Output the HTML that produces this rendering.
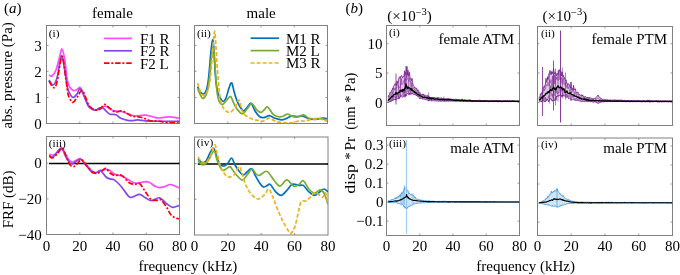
<!DOCTYPE html>
<html><head><meta charset="utf-8"><style>
html,body{margin:0;padding:0;background:#fff;}
body{width:680px;height:275px;position:relative;overflow:hidden;font-family:"Liberation Serif",serif;}
</style></head><body>
<svg width="680" height="275" viewBox="0 0 680 275" style="position:absolute;left:0;top:0;will-change:transform">
<defs><clipPath id="cA1"><rect x="46.5" y="25.5" width="133.0" height="98.0"/></clipPath><clipPath id="cA2"><rect x="194.5" y="25.5" width="133.0" height="98.0"/></clipPath><clipPath id="cA3"><rect x="46.5" y="136.5" width="133.0" height="98.0"/></clipPath><clipPath id="cA4"><rect x="194.5" y="137.0" width="133.5" height="98.0"/></clipPath><clipPath id="cB1"><rect x="386.5" y="25.5" width="133.0" height="100.0"/></clipPath><clipPath id="cB2"><rect x="537.5" y="26.5" width="135.0" height="99.0"/></clipPath><clipPath id="cB3"><rect x="386.5" y="137.5" width="133.0" height="98.0"/></clipPath><clipPath id="cB4"><rect x="537.5" y="138.0" width="135.0" height="97.5"/></clipPath></defs>
<rect x="46.5" y="25.5" width="133.0" height="98.0" fill="none" stroke="#808080" stroke-width="1"/><path d="M79.8,123.5 v-2.0 M79.8,25.5 v2.0" stroke="#808080" stroke-width="0.8"/><path d="M113.0,123.5 v-2.0 M113.0,25.5 v2.0" stroke="#808080" stroke-width="0.8"/><path d="M146.2,123.5 v-2.0 M146.2,25.5 v2.0" stroke="#808080" stroke-width="0.8"/><path d="M46.5,97.5 h2.0 M179.5,97.5 h-2.0" stroke="#808080" stroke-width="0.8"/><path d="M46.5,71.4 h2.0 M179.5,71.4 h-2.0" stroke="#808080" stroke-width="0.8"/><path d="M46.5,45.4 h2.0 M179.5,45.4 h-2.0" stroke="#808080" stroke-width="0.8"/>
<rect x="194.5" y="25.5" width="133.0" height="98.0" fill="none" stroke="#808080" stroke-width="1"/><path d="M227.8,123.5 v-2.0 M227.8,25.5 v2.0" stroke="#808080" stroke-width="0.8"/><path d="M261.0,123.5 v-2.0 M261.0,25.5 v2.0" stroke="#808080" stroke-width="0.8"/><path d="M294.2,123.5 v-2.0 M294.2,25.5 v2.0" stroke="#808080" stroke-width="0.8"/><path d="M194.5,97.5 h2.0 M327.5,97.5 h-2.0" stroke="#808080" stroke-width="0.8"/><path d="M194.5,71.4 h2.0 M327.5,71.4 h-2.0" stroke="#808080" stroke-width="0.8"/><path d="M194.5,45.4 h2.0 M327.5,45.4 h-2.0" stroke="#808080" stroke-width="0.8"/>
<rect x="46.5" y="136.5" width="133.0" height="98.0" fill="none" stroke="#808080" stroke-width="1"/><path d="M79.8,234.5 v-2.0 M79.8,136.5 v2.0" stroke="#808080" stroke-width="0.8"/><path d="M113.0,234.5 v-2.0 M113.0,136.5 v2.0" stroke="#808080" stroke-width="0.8"/><path d="M146.2,234.5 v-2.0 M146.2,136.5 v2.0" stroke="#808080" stroke-width="0.8"/><path d="M46.5,198.9 h2.0 M179.5,198.9 h-2.0" stroke="#808080" stroke-width="0.8"/><path d="M46.5,163.2 h2.0 M179.5,163.2 h-2.0" stroke="#808080" stroke-width="0.8"/>
<rect x="194.5" y="137.0" width="133.5" height="98.0" fill="none" stroke="#808080" stroke-width="1"/><path d="M227.9,235.0 v-2.0 M227.9,137.0 v2.0" stroke="#808080" stroke-width="0.8"/><path d="M261.2,235.0 v-2.0 M261.2,137.0 v2.0" stroke="#808080" stroke-width="0.8"/><path d="M294.6,235.0 v-2.0 M294.6,137.0 v2.0" stroke="#808080" stroke-width="0.8"/><path d="M194.5,199.4 h2.0 M328.0,199.4 h-2.0" stroke="#808080" stroke-width="0.8"/><path d="M194.5,163.7 h2.0 M328.0,163.7 h-2.0" stroke="#808080" stroke-width="0.8"/>
<path d="M49,163.4 H179.5" stroke="#000" stroke-width="1.5"/>
<path d="M197.8,163.9 H328" stroke="#000" stroke-width="1.5"/>
<path d="M49.00,75.00 C49.50,75.17 50.83,76.83 52.00,76.00 C53.17,75.17 54.78,73.00 56.00,70.00 C57.22,67.00 58.30,61.50 59.30,58.00 C60.30,54.50 61.08,48.67 62.00,49.00 C62.92,49.33 63.92,54.83 64.80,60.00 C65.68,65.17 66.43,75.42 67.30,80.00 C68.17,84.58 68.92,85.72 70.00,87.50 C71.08,89.28 72.63,90.37 73.80,90.70 C74.97,91.03 75.90,89.98 77.00,89.50 C78.10,89.02 79.12,86.58 80.40,87.80 C81.68,89.02 83.37,93.85 84.70,96.80 C86.03,99.75 86.93,103.37 88.40,105.50 C89.87,107.63 91.68,108.98 93.50,109.60 C95.32,110.22 97.43,109.77 99.30,109.20 C101.17,108.63 103.02,106.32 104.70,106.20 C106.38,106.08 107.85,107.72 109.40,108.50 C110.95,109.28 112.07,110.40 114.00,110.90 C115.93,111.40 118.43,110.92 121.00,111.50 C123.57,112.08 127.02,113.65 129.40,114.40 C131.78,115.15 132.75,115.87 135.30,116.00 C137.85,116.13 141.75,115.07 144.70,115.20 C147.65,115.33 150.65,116.33 153.00,116.80 C155.35,117.27 156.07,118.00 158.80,118.00 C161.53,118.00 166.03,116.75 169.40,116.80 C172.77,116.85 177.40,118.05 179.00,118.30" fill="none" stroke="#ff4cff" stroke-width="1.70" stroke-linejoin="round" clip-path="url(#cA1)"/>
<path d="M49.00,80.00 C49.67,80.83 51.67,85.33 53.00,85.00 C54.33,84.67 55.90,81.50 57.00,78.00 C58.10,74.50 58.77,67.67 59.60,64.00 C60.43,60.33 61.10,54.67 62.00,56.00 C62.90,57.33 64.07,66.67 65.00,72.00 C65.93,77.33 66.77,84.33 67.60,88.00 C68.43,91.67 69.08,92.42 70.00,94.00 C70.92,95.58 71.93,97.50 73.10,97.50 C74.27,97.50 75.78,95.45 77.00,94.00 C78.22,92.55 78.98,87.85 80.40,88.80 C81.82,89.75 84.07,96.67 85.50,99.70 C86.93,102.73 87.42,105.25 89.00,107.00 C90.58,108.75 93.17,110.07 95.00,110.20 C96.83,110.33 98.67,108.17 100.00,107.80 C101.33,107.43 101.83,107.33 103.00,108.00 C104.17,108.67 105.83,110.77 107.00,111.80 C108.17,112.83 108.47,113.70 110.00,114.20 C111.53,114.70 114.48,114.15 116.20,114.80 C117.92,115.45 118.42,117.17 120.30,118.10 C122.18,119.03 125.55,119.98 127.50,120.40 C129.45,120.82 130.28,120.68 132.00,120.60 C133.72,120.52 135.47,119.85 137.80,119.90 C140.13,119.95 142.92,120.68 146.00,120.90 C149.08,121.12 152.87,121.12 156.30,121.20 C159.73,121.28 162.82,121.40 166.60,121.40 C170.38,121.40 176.93,121.23 179.00,121.20" fill="none" stroke="#8844ee" stroke-width="1.70" stroke-linejoin="round" clip-path="url(#cA1)"/>
<path d="M49.00,81.00 C49.77,82.10 52.27,87.43 53.60,87.60 C54.93,87.77 55.60,87.20 57.00,82.00 C58.40,76.80 60.50,56.73 62.00,56.40 C63.50,56.07 65.00,73.73 66.00,80.00 C67.00,86.27 67.25,90.67 68.00,94.00 C68.75,97.33 69.65,98.62 70.50,100.00 C71.35,101.38 71.93,102.83 73.10,102.30 C74.27,101.77 76.05,98.80 77.50,96.80 C78.95,94.80 80.47,90.30 81.80,90.30 C83.13,90.30 84.30,94.27 85.50,96.80 C86.70,99.33 87.42,103.30 89.00,105.50 C90.58,107.70 93.17,109.42 95.00,110.00 C96.83,110.58 98.38,109.93 100.00,109.00 C101.62,108.07 103.13,104.57 104.70,104.40 C106.27,104.23 107.63,106.73 109.40,108.00 C111.17,109.27 113.37,111.52 115.30,112.00 C117.23,112.48 119.23,110.80 121.00,110.90 C122.77,111.00 124.10,111.72 125.90,112.60 C127.70,113.48 129.65,115.50 131.80,116.20 C133.95,116.90 136.65,116.42 138.80,116.80 C140.95,117.18 142.73,117.82 144.70,118.50 C146.67,119.18 148.25,120.47 150.60,120.90 C152.95,121.33 155.87,120.82 158.80,121.10 C161.73,121.38 164.83,122.28 168.20,122.60 C171.57,122.92 177.20,122.93 179.00,123.00" fill="none" stroke="#ff0000" stroke-width="1.70" stroke-dasharray="5.5,1.8,2,1.8" stroke-linejoin="round" clip-path="url(#cA1)"/>
<path d="M197.60,86.70 C198.00,87.50 199.02,90.28 200.00,91.50 C200.98,92.72 202.50,94.08 203.50,94.00 C204.50,93.92 205.28,92.67 206.00,91.00 C206.72,89.33 207.27,87.17 207.80,84.00 C208.33,80.83 208.73,76.83 209.20,72.00 C209.67,67.17 210.17,59.67 210.60,55.00 C211.03,50.33 211.45,46.58 211.80,44.00 C212.15,41.42 212.42,39.50 212.70,39.50 C212.98,39.50 213.23,41.08 213.50,44.00 C213.77,46.92 214.00,52.00 214.30,57.00 C214.60,62.00 214.93,69.17 215.30,74.00 C215.67,78.83 216.05,82.83 216.50,86.00 C216.95,89.17 217.38,91.03 218.00,93.00 C218.62,94.97 219.37,96.38 220.20,97.80 C221.03,99.22 222.03,101.47 223.00,101.50 C223.97,101.53 225.00,100.25 226.00,98.00 C227.00,95.75 228.05,90.50 229.00,88.00 C229.95,85.50 230.80,82.20 231.70,83.00 C232.60,83.80 233.35,89.47 234.40,92.80 C235.45,96.13 236.52,100.02 238.00,103.00 C239.48,105.98 241.80,109.95 243.30,110.70 C244.80,111.45 245.72,108.75 247.00,107.50 C248.28,106.25 249.68,102.67 251.00,103.20 C252.32,103.73 253.50,108.48 254.90,110.70 C256.30,112.92 257.92,115.35 259.40,116.50 C260.88,117.65 262.15,117.73 263.80,117.60 C265.45,117.47 267.47,115.60 269.30,115.70 C271.13,115.80 272.77,117.52 274.80,118.20 C276.83,118.88 279.47,119.80 281.50,119.80 C283.53,119.80 285.35,118.80 287.00,118.20 C288.65,117.60 289.57,116.48 291.40,116.20 C293.23,115.92 296.17,116.53 298.00,116.50 C299.83,116.47 300.57,115.63 302.40,116.00 C304.23,116.37 306.80,118.15 309.00,118.70 C311.20,119.25 313.20,119.38 315.60,119.30 C318.00,119.22 321.50,118.30 323.40,118.20 C325.30,118.10 326.40,118.62 327.00,118.70" fill="none" stroke="#0072bd" stroke-width="1.70" stroke-linejoin="round" clip-path="url(#cA2)"/>
<path d="M197.60,88.20 C198.00,89.17 199.15,92.30 200.00,94.00 C200.85,95.70 201.70,98.23 202.70,98.40 C203.70,98.57 205.12,96.73 206.00,95.00 C206.88,93.27 207.40,91.00 208.00,88.00 C208.60,85.00 209.10,81.33 209.60,77.00 C210.10,72.67 210.57,66.33 211.00,62.00 C211.43,57.67 211.85,53.50 212.20,51.00 C212.55,48.50 212.80,46.83 213.10,47.00 C213.40,47.17 213.70,49.17 214.00,52.00 C214.30,54.83 214.57,59.33 214.90,64.00 C215.23,68.67 215.60,75.00 216.00,80.00 C216.40,85.00 216.80,90.50 217.30,94.00 C217.80,97.50 218.42,99.37 219.00,101.00 C219.58,102.63 220.17,103.23 220.80,103.80 C221.43,104.37 221.85,104.95 222.80,104.40 C223.75,103.85 225.22,101.83 226.50,100.50 C227.78,99.17 229.33,96.05 230.50,96.40 C231.67,96.75 232.42,100.50 233.50,102.60 C234.58,104.70 235.52,107.12 237.00,109.00 C238.48,110.88 240.73,113.90 242.40,113.90 C244.07,113.90 245.45,110.73 247.00,109.00 C248.55,107.27 250.08,103.37 251.70,103.50 C253.32,103.63 255.15,108.33 256.70,109.80 C258.25,111.27 259.78,112.27 261.00,112.30 C262.22,112.33 262.88,110.90 264.00,110.00 C265.12,109.10 266.17,106.18 267.70,106.90 C269.23,107.62 271.27,112.62 273.20,114.30 C275.13,115.98 277.55,116.72 279.30,117.00 C281.05,117.28 282.33,116.50 283.70,116.00 C285.07,115.50 286.03,113.92 287.50,114.00 C288.97,114.08 290.75,116.00 292.50,116.50 C294.25,117.00 296.17,117.28 298.00,117.00 C299.83,116.72 301.67,114.57 303.50,114.80 C305.33,115.03 306.80,117.75 309.00,118.40 C311.20,119.05 314.48,118.65 316.70,118.70 C318.92,118.75 320.58,118.33 322.30,118.70 C324.02,119.07 326.22,120.53 327.00,120.90" fill="none" stroke="#77ac30" stroke-width="1.70" stroke-linejoin="round" clip-path="url(#cA2)"/>
<path d="M197.60,83.00 C198.00,84.25 199.10,88.42 200.00,90.50 C200.90,92.58 202.00,94.92 203.00,95.50 C204.00,96.08 205.08,95.25 206.00,94.00 C206.92,92.75 207.78,90.67 208.50,88.00 C209.22,85.33 209.75,82.33 210.30,78.00 C210.85,73.67 211.33,67.50 211.80,62.00 C212.27,56.50 212.73,49.50 213.10,45.00 C213.47,40.50 213.75,37.30 214.00,35.00 C214.25,32.70 214.40,31.20 214.60,31.20 C214.80,31.20 214.98,32.70 215.20,35.00 C215.42,37.30 215.62,40.50 215.90,45.00 C216.18,49.50 216.52,56.17 216.90,62.00 C217.28,67.83 217.75,74.67 218.20,80.00 C218.65,85.33 219.05,90.00 219.60,94.00 C220.15,98.00 220.60,101.33 221.50,104.00 C222.40,106.67 223.58,108.60 225.00,110.00 C226.42,111.40 228.28,112.90 230.00,112.40 C231.72,111.90 233.82,109.07 235.30,107.00 C236.78,104.93 237.87,99.68 238.90,100.00 C239.93,100.32 240.62,106.53 241.50,108.90 C242.38,111.27 242.57,112.57 244.20,114.20 C245.83,115.83 248.92,117.65 251.30,118.70 C253.68,119.75 256.55,120.08 258.50,120.50 C260.45,120.92 261.75,121.32 263.00,121.20 C264.25,121.08 264.95,120.30 266.00,119.80 C267.05,119.30 267.63,117.92 269.30,118.20 C270.97,118.48 273.78,120.77 276.00,121.50 C278.22,122.23 280.03,122.38 282.60,122.60 C285.17,122.82 288.67,123.07 291.40,122.80 C294.13,122.53 296.80,121.30 299.00,121.00 C301.20,120.70 302.38,121.28 304.60,121.00 C306.82,120.72 309.90,119.63 312.30,119.30 C314.70,118.97 316.78,118.78 319.00,119.00 C321.22,119.22 324.27,120.27 325.60,120.60 C326.93,120.93 326.77,120.93 327.00,121.00" fill="none" stroke="#edb120" stroke-width="1.70" stroke-dasharray="4,2" stroke-linejoin="round" clip-path="url(#cA2)"/>
<path d="M49.30,154.30 C49.97,154.45 52.03,155.50 53.30,155.20 C54.57,154.90 55.53,153.72 56.90,152.50 C58.27,151.28 59.98,147.45 61.50,147.90 C63.02,148.35 64.65,153.08 66.00,155.20 C67.35,157.32 68.53,159.47 69.60,160.60 C70.67,161.73 71.33,162.05 72.40,162.00 C73.47,161.95 74.65,160.83 76.00,160.30 C77.35,159.77 78.83,158.13 80.50,158.80 C82.17,159.47 84.17,162.33 86.00,164.30 C87.83,166.27 89.83,169.23 91.50,170.60 C93.17,171.97 94.50,172.50 96.00,172.50 C97.50,172.50 98.83,171.12 100.50,170.60 C102.17,170.08 104.42,169.40 106.00,169.40 C107.58,169.40 108.55,169.80 110.00,170.60 C111.45,171.40 112.73,173.30 114.70,174.20 C116.67,175.10 119.43,175.02 121.80,176.00 C124.17,176.98 126.53,178.90 128.90,180.10 C131.27,181.30 133.23,182.93 136.00,183.20 C138.77,183.47 143.17,181.77 145.50,181.70 C147.83,181.63 148.42,182.05 150.00,182.80 C151.58,183.55 153.37,185.40 155.00,186.20 C156.63,187.00 158.22,187.53 159.80,187.60 C161.38,187.67 162.80,187.12 164.50,186.60 C166.20,186.08 168.33,184.63 170.00,184.50 C171.67,184.37 173.00,185.22 174.50,185.80 C176.00,186.38 178.25,187.63 179.00,188.00" fill="none" stroke="#ff4cff" stroke-width="1.70" stroke-linejoin="round" clip-path="url(#cA3)"/>
<path d="M49.30,155.20 C49.82,155.57 51.12,157.85 52.40,157.40 C53.68,156.95 55.48,154.02 57.00,152.50 C58.52,150.98 60.00,147.55 61.50,148.30 C63.00,149.05 64.65,154.63 66.00,157.00 C67.35,159.37 68.53,161.33 69.60,162.50 C70.67,163.67 71.33,164.17 72.40,164.00 C73.47,163.83 74.65,162.30 76.00,161.50 C77.35,160.70 78.83,158.58 80.50,159.20 C82.17,159.82 84.02,162.98 86.00,165.20 C87.98,167.42 90.57,171.28 92.40,172.50 C94.23,173.72 95.65,172.82 97.00,172.50 C98.35,172.18 99.00,169.85 100.50,170.60 C102.00,171.35 104.42,175.62 106.00,177.00 C107.58,178.38 108.55,178.38 110.00,178.90 C111.45,179.42 112.73,178.72 114.70,180.10 C116.67,181.48 119.43,184.45 121.80,187.20 C124.17,189.95 126.93,195.03 128.90,196.60 C130.87,198.17 131.82,196.98 133.60,196.60 C135.38,196.22 137.62,194.10 139.60,194.30 C141.58,194.50 143.53,196.73 145.50,197.80 C147.47,198.87 149.05,200.70 151.40,200.70 C153.75,200.70 157.05,197.30 159.60,197.80 C162.15,198.30 164.53,202.12 166.70,203.70 C168.87,205.28 170.55,207.02 172.60,207.30 C174.65,207.58 177.93,205.72 179.00,205.40" fill="none" stroke="#8844ee" stroke-width="1.70" stroke-linejoin="round" clip-path="url(#cA3)"/>
<path d="M49.30,156.10 C49.82,156.40 51.12,158.20 52.40,157.90 C53.68,157.60 55.33,155.97 57.00,154.30 C58.67,152.63 60.90,147.60 62.40,147.90 C63.90,148.20 64.80,153.37 66.00,156.10 C67.20,158.83 68.38,162.55 69.60,164.30 C70.82,166.05 72.08,166.60 73.30,166.60 C74.52,166.60 75.53,165.45 76.90,164.30 C78.27,163.15 79.83,159.42 81.50,159.70 C83.17,159.98 84.93,163.87 86.90,166.00 C88.87,168.13 91.48,171.33 93.30,172.50 C95.12,173.67 96.28,173.32 97.80,173.00 C99.32,172.68 101.03,171.38 102.40,170.60 C103.77,169.82 104.73,167.90 106.00,168.30 C107.27,168.70 108.55,171.82 110.00,173.00 C111.45,174.18 112.73,175.00 114.70,175.40 C116.67,175.80 119.43,174.22 121.80,175.40 C124.17,176.58 126.73,181.02 128.90,182.50 C131.07,183.98 133.02,184.12 134.80,184.30 C136.58,184.48 137.82,182.33 139.60,183.60 C141.38,184.87 143.53,189.22 145.50,191.90 C147.47,194.58 149.43,198.32 151.40,199.70 C153.37,201.08 155.73,200.20 157.30,200.20 C158.87,200.20 159.23,198.52 160.80,199.70 C162.37,200.88 164.92,204.65 166.70,207.30 C168.48,209.95 169.45,213.63 171.50,215.60 C173.55,217.57 177.75,218.52 179.00,219.10" fill="none" stroke="#ff0000" stroke-width="1.70" stroke-dasharray="5.5,1.8,2,1.8" stroke-linejoin="round" clip-path="url(#cA3)"/>
<path d="M198.00,159.00 C198.67,159.60 200.67,162.27 202.00,162.60 C203.33,162.93 204.67,162.60 206.00,161.00 C207.33,159.40 208.77,155.17 210.00,153.00 C211.23,150.83 212.40,147.83 213.40,148.00 C214.40,148.17 215.07,151.50 216.00,154.00 C216.93,156.50 217.67,161.00 219.00,163.00 C220.33,165.00 222.50,166.00 224.00,166.00 C225.50,166.00 226.73,164.33 228.00,163.00 C229.27,161.67 230.43,157.67 231.60,158.00 C232.77,158.33 233.77,162.83 235.00,165.00 C236.23,167.17 237.67,169.33 239.00,171.00 C240.33,172.67 241.67,174.83 243.00,175.00 C244.33,175.17 245.57,173.07 247.00,172.00 C248.43,170.93 250.27,168.10 251.60,168.60 C252.93,169.10 253.77,172.77 255.00,175.00 C256.23,177.23 257.62,180.00 259.00,182.00 C260.38,184.00 261.90,186.43 263.30,187.00 C264.70,187.57 266.25,185.85 267.40,185.40 C268.55,184.95 268.82,183.23 270.20,184.30 C271.58,185.37 273.87,189.95 275.70,191.80 C277.53,193.65 279.35,195.63 281.20,195.40 C283.05,195.17 284.95,192.25 286.80,190.40 C288.65,188.55 290.23,185.13 292.30,184.30 C294.37,183.47 297.37,185.22 299.20,185.40 C301.03,185.58 301.68,184.33 303.30,185.40 C304.92,186.47 307.05,190.13 308.90,191.80 C310.75,193.47 312.55,195.40 314.40,195.40 C316.25,195.40 318.40,192.87 320.00,191.80 C321.60,190.73 322.67,189.00 324.00,189.00 C325.33,189.00 327.33,191.33 328.00,191.80" fill="none" stroke="#0072bd" stroke-width="1.70" stroke-linejoin="round" clip-path="url(#cA4)"/>
<path d="M198.00,160.60 C198.83,161.33 201.33,164.93 203.00,165.00 C204.67,165.07 206.17,163.33 208.00,161.00 C209.83,158.67 212.50,151.17 214.00,151.00 C215.50,150.83 215.67,156.83 217.00,160.00 C218.33,163.17 220.50,168.50 222.00,170.00 C223.50,171.50 224.67,169.57 226.00,169.00 C227.33,168.43 228.67,166.10 230.00,166.60 C231.33,167.10 232.00,169.77 234.00,172.00 C236.00,174.23 239.83,179.50 242.00,180.00 C244.17,180.50 245.33,176.83 247.00,175.00 C248.67,173.17 250.50,169.17 252.00,169.00 C253.50,168.83 254.83,172.92 256.00,174.00 C257.17,175.08 257.83,175.67 259.00,175.50 C260.17,175.33 261.60,173.65 263.00,173.00 C264.40,172.35 265.52,170.32 267.40,171.60 C269.28,172.88 272.22,178.27 274.30,180.70 C276.38,183.13 277.82,186.33 279.90,186.20 C281.98,186.07 284.50,179.90 286.80,179.90 C289.10,179.90 291.63,185.47 293.70,186.20 C295.77,186.93 297.60,185.22 299.20,184.30 C300.80,183.38 301.68,179.92 303.30,180.70 C304.92,181.48 307.05,186.93 308.90,189.00 C310.75,191.07 312.55,192.97 314.40,193.10 C316.25,193.23 318.40,189.80 320.00,189.80 C321.60,189.80 322.67,190.70 324.00,193.10 C325.33,195.50 327.33,202.35 328.00,204.20" fill="none" stroke="#77ac30" stroke-width="1.70" stroke-linejoin="round" clip-path="url(#cA4)"/>
<path d="M198.00,157.00 C198.83,158.00 201.17,162.67 203.00,163.00 C204.83,163.33 207.07,162.00 209.00,159.00 C210.93,156.00 213.27,146.00 214.60,145.00 C215.93,144.00 216.10,149.67 217.00,153.00 C217.90,156.33 218.83,161.67 220.00,165.00 C221.17,168.33 222.67,171.00 224.00,173.00 C225.33,175.00 226.33,176.67 228.00,177.00 C229.67,177.33 232.17,176.73 234.00,175.00 C235.83,173.27 237.67,166.93 239.00,166.60 C240.33,166.27 241.00,170.27 242.00,173.00 C243.00,175.73 244.00,180.27 245.00,183.00 C246.00,185.73 246.83,187.40 248.00,189.40 C249.17,191.40 250.33,193.40 252.00,195.00 C253.67,196.60 255.88,199.08 258.00,199.00 C260.12,198.92 262.90,196.17 264.70,194.50 C266.50,192.83 267.42,188.53 268.80,189.00 C270.18,189.47 271.62,194.08 273.00,197.30 C274.38,200.52 275.50,204.38 277.10,208.30 C278.70,212.22 280.77,217.12 282.60,220.80 C284.43,224.48 286.72,228.33 288.10,230.40 C289.48,232.47 289.75,233.88 290.90,233.20 C292.05,232.52 293.62,230.45 295.00,226.30 C296.38,222.15 298.13,212.45 299.20,208.30 C300.27,204.15 300.25,202.63 301.40,201.40 C302.55,200.17 304.63,201.58 306.10,200.90 C307.57,200.22 308.82,198.68 310.20,197.30 C311.58,195.92 313.02,193.07 314.40,192.60 C315.78,192.13 317.12,193.72 318.50,194.50 C319.88,195.28 321.55,197.62 322.70,197.30 C323.85,196.98 324.52,191.55 325.40,192.60 C326.28,193.65 327.57,201.77 328.00,203.60" fill="none" stroke="#edb120" stroke-width="1.70" stroke-dasharray="4,2" stroke-linejoin="round" clip-path="url(#cA4)"/>
<path d="M104.0,38.4 H132.0" stroke="#ff4cff" stroke-width="1.7"/><text x="140.0" y="43.8" font-size="15" font-family="Liberation Serif, serif" fill="#000">F1 R</text><path d="M104.0,50.8 H132.0" stroke="#8844ee" stroke-width="1.7"/><text x="140.0" y="56.2" font-size="15" font-family="Liberation Serif, serif" fill="#000">F2 R</text><path d="M104.0,63.2 H132.0" stroke="#ff0000" stroke-width="1.7" stroke-dasharray="5.5,1.8,2,1.8"/><text x="140.0" y="68.6" font-size="15" font-family="Liberation Serif, serif" fill="#000">F2 L</text>
<path d="M250.6,38.2 H279.0" stroke="#0072bd" stroke-width="1.7"/><text x="286.0" y="43.6" font-size="15" font-family="Liberation Serif, serif" fill="#000">M1 R</text><path d="M250.6,50.6 H279.0" stroke="#77ac30" stroke-width="1.7"/><text x="286.0" y="56.0" font-size="15" font-family="Liberation Serif, serif" fill="#000">M2 L</text><path d="M250.6,63.0 H279.0" stroke="#edb120" stroke-width="1.7" stroke-dasharray="4,2"/><text x="286.0" y="68.4" font-size="15" font-family="Liberation Serif, serif" fill="#000">M3 R</text>
<text x="4.0" y="13.0" font-size="15.0" font-family="Liberation Serif, serif" text-anchor="start" fill="#000">(<tspan font-style="italic">a</tspan>)</text>
<text x="345.5" y="13.0" font-size="15.0" font-family="Liberation Serif, serif" text-anchor="start" fill="#000">(<tspan font-style="italic">b</tspan>)</text>
<text x="112.5" y="18.0" font-size="15.0" font-family="Liberation Serif, serif" text-anchor="middle" fill="#000">female</text>
<text x="261.2" y="18.0" font-size="15.0" font-family="Liberation Serif, serif" text-anchor="middle" fill="#000">male</text>
<text x="48.7" y="36.6" font-size="11.4" font-family="Liberation Serif, serif" text-anchor="start" fill="#000">(i)</text>
<text x="197.0" y="36.6" font-size="11.4" font-family="Liberation Serif, serif" text-anchor="start" fill="#000">(ii)</text>
<text x="48.8" y="146.6" font-size="11.4" font-family="Liberation Serif, serif" text-anchor="start" fill="#000">(iii)</text>
<text x="196.8" y="146.2" font-size="11.4" font-family="Liberation Serif, serif" text-anchor="start" fill="#000">(iv)</text>
<text x="389.0" y="36.4" font-size="11.4" font-family="Liberation Serif, serif" text-anchor="start" fill="#000">(i)</text>
<text x="541.0" y="36.6" font-size="11.4" font-family="Liberation Serif, serif" text-anchor="start" fill="#000">(ii)</text>
<text x="388.9" y="147.4" font-size="11.4" font-family="Liberation Serif, serif" text-anchor="start" fill="#000">(iii)</text>
<text x="541.0" y="147.9" font-size="11.4" font-family="Liberation Serif, serif" text-anchor="start" fill="#000">(iv)</text>
<text x="41.8" y="128.7" font-size="15.0" font-family="Liberation Serif, serif" text-anchor="end" fill="#000">0</text>
<text x="41.8" y="102.7" font-size="15.0" font-family="Liberation Serif, serif" text-anchor="end" fill="#000">1</text>
<text x="41.8" y="76.6" font-size="15.0" font-family="Liberation Serif, serif" text-anchor="end" fill="#000">2</text>
<text x="41.8" y="50.6" font-size="15.0" font-family="Liberation Serif, serif" text-anchor="end" fill="#000">3</text>
<text x="41.8" y="168.4" font-size="15.0" font-family="Liberation Serif, serif" text-anchor="end" fill="#000">0</text>
<text x="41.8" y="204.1" font-size="15.0" font-family="Liberation Serif, serif" text-anchor="end" fill="#000">−20</text>
<text x="41.8" y="239.7" font-size="15.0" font-family="Liberation Serif, serif" text-anchor="end" fill="#000">−40</text>
<text x="46.5" y="251.3" font-size="15.0" font-family="Liberation Serif, serif" text-anchor="middle" fill="#000">0</text>
<text x="79.8" y="251.3" font-size="15.0" font-family="Liberation Serif, serif" text-anchor="middle" fill="#000">20</text>
<text x="113.0" y="251.3" font-size="15.0" font-family="Liberation Serif, serif" text-anchor="middle" fill="#000">40</text>
<text x="146.2" y="251.3" font-size="15.0" font-family="Liberation Serif, serif" text-anchor="middle" fill="#000">60</text>
<text x="179.5" y="251.3" font-size="15.0" font-family="Liberation Serif, serif" text-anchor="middle" fill="#000">80</text>
<text x="194.5" y="251.3" font-size="15.0" font-family="Liberation Serif, serif" text-anchor="middle" fill="#000">0</text>
<text x="227.9" y="251.3" font-size="15.0" font-family="Liberation Serif, serif" text-anchor="middle" fill="#000">20</text>
<text x="261.2" y="251.3" font-size="15.0" font-family="Liberation Serif, serif" text-anchor="middle" fill="#000">40</text>
<text x="294.6" y="251.3" font-size="15.0" font-family="Liberation Serif, serif" text-anchor="middle" fill="#000">60</text>
<text x="328.0" y="251.3" font-size="15.0" font-family="Liberation Serif, serif" text-anchor="middle" fill="#000">80</text>
<text x="386.5" y="251.3" font-size="15.0" font-family="Liberation Serif, serif" text-anchor="middle" fill="#000">0</text>
<text x="419.8" y="251.3" font-size="15.0" font-family="Liberation Serif, serif" text-anchor="middle" fill="#000">20</text>
<text x="453.0" y="251.3" font-size="15.0" font-family="Liberation Serif, serif" text-anchor="middle" fill="#000">40</text>
<text x="486.2" y="251.3" font-size="15.0" font-family="Liberation Serif, serif" text-anchor="middle" fill="#000">60</text>
<text x="519.5" y="251.3" font-size="15.0" font-family="Liberation Serif, serif" text-anchor="middle" fill="#000">80</text>
<text x="537.5" y="251.3" font-size="15.0" font-family="Liberation Serif, serif" text-anchor="middle" fill="#000">0</text>
<text x="571.2" y="251.3" font-size="15.0" font-family="Liberation Serif, serif" text-anchor="middle" fill="#000">20</text>
<text x="605.0" y="251.3" font-size="15.0" font-family="Liberation Serif, serif" text-anchor="middle" fill="#000">40</text>
<text x="638.8" y="251.3" font-size="15.0" font-family="Liberation Serif, serif" text-anchor="middle" fill="#000">60</text>
<text x="672.5" y="251.3" font-size="15.0" font-family="Liberation Serif, serif" text-anchor="middle" fill="#000">80</text>
<text x="187.8" y="271.2" font-size="15.0" font-family="Liberation Serif, serif" text-anchor="middle" fill="#000">frequency (kHz)</text>
<text x="525.6" y="271.2" font-size="15.0" font-family="Liberation Serif, serif" text-anchor="middle" fill="#000">frequency (kHz)</text>
<text transform="translate(12.4,75.3) rotate(-90)" font-size="15" font-family="Liberation Serif, serif" text-anchor="middle">abs. pressure (Pa)</text>
<text transform="translate(12.5,199.4) rotate(-90)" font-size="15" font-family="Liberation Serif, serif" text-anchor="middle">FRF (dB)</text>
<g transform="translate(355,200) rotate(-90)" font-size="15" font-family="Liberation Serif, serif" fill="#000"><text x="6.2" y="0" textLength="29.6" lengthAdjust="spacingAndGlyphs">disp</text><text x="44" y="0" text-anchor="middle">*</text><text x="49.4" y="0" textLength="13.8" lengthAdjust="spacingAndGlyphs">Pr</text><text x="70.2" y="0" textLength="57.2" lengthAdjust="spacingAndGlyphs">(nm * Pa)</text></g>
<rect x="386.5" y="25.5" width="133.0" height="100.0" fill="none" stroke="#808080" stroke-width="1"/><path d="M419.8,125.5 v-2.0 M419.8,25.5 v2.0" stroke="#808080" stroke-width="0.8"/><path d="M453.0,125.5 v-2.0 M453.0,25.5 v2.0" stroke="#808080" stroke-width="0.8"/><path d="M486.2,125.5 v-2.0 M486.2,25.5 v2.0" stroke="#808080" stroke-width="0.8"/><path d="M386.5,102.3 h2.0 M519.5,102.3 h-2.0" stroke="#808080" stroke-width="0.8"/><path d="M386.5,73.0 h2.0 M519.5,73.0 h-2.0" stroke="#808080" stroke-width="0.8"/><path d="M386.5,43.7 h2.0 M519.5,43.7 h-2.0" stroke="#808080" stroke-width="0.8"/>
<rect x="537.5" y="26.5" width="135.0" height="99.0" fill="none" stroke="#808080" stroke-width="1"/><path d="M571.2,125.5 v-2.0 M571.2,26.5 v2.0" stroke="#808080" stroke-width="0.8"/><path d="M605.0,125.5 v-2.0 M605.0,26.5 v2.0" stroke="#808080" stroke-width="0.8"/><path d="M638.8,125.5 v-2.0 M638.8,26.5 v2.0" stroke="#808080" stroke-width="0.8"/><path d="M537.5,102.3 h2.0 M672.5,102.3 h-2.0" stroke="#808080" stroke-width="0.8"/><path d="M537.5,73.0 h2.0 M672.5,73.0 h-2.0" stroke="#808080" stroke-width="0.8"/><path d="M537.5,43.7 h2.0 M672.5,43.7 h-2.0" stroke="#808080" stroke-width="0.8"/>
<rect x="386.5" y="137.5" width="133.0" height="98.0" fill="none" stroke="#808080" stroke-width="1"/><path d="M419.8,235.5 v-2.0 M419.8,137.5 v2.0" stroke="#808080" stroke-width="0.8"/><path d="M453.0,235.5 v-2.0 M453.0,137.5 v2.0" stroke="#808080" stroke-width="0.8"/><path d="M486.2,235.5 v-2.0 M486.2,137.5 v2.0" stroke="#808080" stroke-width="0.8"/><path d="M386.5,221.2 h2.0 M519.5,221.2 h-2.0" stroke="#808080" stroke-width="0.8"/><path d="M386.5,202.2 h2.0 M519.5,202.2 h-2.0" stroke="#808080" stroke-width="0.8"/><path d="M386.5,183.2 h2.0 M519.5,183.2 h-2.0" stroke="#808080" stroke-width="0.8"/><path d="M386.5,164.2 h2.0 M519.5,164.2 h-2.0" stroke="#808080" stroke-width="0.8"/><path d="M386.5,145.2 h2.0 M519.5,145.2 h-2.0" stroke="#808080" stroke-width="0.8"/>
<rect x="537.5" y="138.0" width="135.0" height="97.5" fill="none" stroke="#808080" stroke-width="1"/><path d="M571.2,235.5 v-2.0 M571.2,138.0 v2.0" stroke="#808080" stroke-width="0.8"/><path d="M605.0,235.5 v-2.0 M605.0,138.0 v2.0" stroke="#808080" stroke-width="0.8"/><path d="M638.8,235.5 v-2.0 M638.8,138.0 v2.0" stroke="#808080" stroke-width="0.8"/><path d="M537.5,222.0 h2.0 M672.5,222.0 h-2.0" stroke="#808080" stroke-width="0.8"/><path d="M537.5,203.0 h2.0 M672.5,203.0 h-2.0" stroke="#808080" stroke-width="0.8"/><path d="M537.5,184.0 h2.0 M672.5,184.0 h-2.0" stroke="#808080" stroke-width="0.8"/><path d="M537.5,165.0 h2.0 M672.5,165.0 h-2.0" stroke="#808080" stroke-width="0.8"/><path d="M537.5,146.0 h2.0 M672.5,146.0 h-2.0" stroke="#808080" stroke-width="0.8"/>
<text x="382.5" y="107.5" font-size="15.0" font-family="Liberation Serif, serif" text-anchor="end" fill="#000">0</text>
<text x="382.5" y="78.2" font-size="15.0" font-family="Liberation Serif, serif" text-anchor="end" fill="#000">5</text>
<text x="382.5" y="48.9" font-size="15.0" font-family="Liberation Serif, serif" text-anchor="end" fill="#000">10</text>
<text x="383.5" y="226.4" font-size="15.0" font-family="Liberation Serif, serif" text-anchor="end" fill="#000">−0.1</text>
<text x="383.5" y="207.4" font-size="15.0" font-family="Liberation Serif, serif" text-anchor="end" fill="#000">0</text>
<text x="383.5" y="188.4" font-size="15.0" font-family="Liberation Serif, serif" text-anchor="end" fill="#000">0.1</text>
<text x="383.5" y="169.4" font-size="15.0" font-family="Liberation Serif, serif" text-anchor="end" fill="#000">0.2</text>
<text x="383.5" y="150.4" font-size="15.0" font-family="Liberation Serif, serif" text-anchor="end" fill="#000">0.3</text>
<text x="387.2" y="20.7" font-size="15.0" font-family="Liberation Serif, serif" text-anchor="start" fill="#000">(×10<tspan font-size="10.5" dy="-4.5">−</tspan><tspan font-size="10.5" dy="-1">3</tspan><tspan dy="5.5">)</tspan></text>
<text x="542.6" y="20.7" font-size="15.0" font-family="Liberation Serif, serif" text-anchor="start" fill="#000">(×10<tspan font-size="10.5" dy="-4.5">−</tspan><tspan font-size="10.5" dy="-1">3</tspan><tspan dy="5.5">)</tspan></text>
<text x="514.0" y="44.0" font-size="15.0" font-family="Liberation Serif, serif" text-anchor="end" fill="#000">female ATM</text>
<text x="667.0" y="44.0" font-size="15.0" font-family="Liberation Serif, serif" text-anchor="end" fill="#000">female PTM</text>
<text x="514.0" y="153.0" font-size="15.0" font-family="Liberation Serif, serif" text-anchor="end" fill="#000">male ATM</text>
<text x="667.0" y="153.0" font-size="15.0" font-family="Liberation Serif, serif" text-anchor="end" fill="#000">male PTM</text>
<path d="M388.00,97.09 L388.50,95.88 L389.00,94.93 L389.50,94.68 L390.00,92.48 L390.50,93.09 L391.00,92.17 L391.50,90.52 L392.00,90.55 L392.50,88.34 L393.00,88.74 L393.50,86.35 L394.00,85.30 L394.50,85.04 L395.00,83.61 L395.50,83.75 L396.00,85.33 L396.50,85.18 L397.00,80.88 L397.50,82.83 L398.00,81.99 L398.50,81.00 L399.00,77.70 L399.50,76.78 L400.00,78.05 L400.50,77.67 L401.00,75.86 L401.50,75.64 L402.00,75.83 L402.50,77.80 L403.00,77.34 L403.50,76.33 L404.00,76.77 L404.50,70.82 L405.00,73.75 L405.50,72.59 L406.00,75.34 L406.50,68.92 L407.00,66.47 L407.50,75.32 L408.00,70.17 L408.50,75.72 L409.00,74.81 L409.50,72.37 L410.00,77.82 L410.50,78.21 L411.00,78.49 L411.50,80.50 L412.00,78.44 L412.50,82.43 L413.00,84.21 L413.50,85.76 L414.00,86.50 L414.50,86.88 L415.00,88.02 L415.50,88.08 L416.00,88.39 L416.50,87.89 L417.00,90.50 L417.50,90.95 L418.00,89.63 L418.50,92.55 L419.00,92.09 L419.50,91.97 L420.00,92.87 L420.50,94.13 L421.00,94.31 L421.50,94.89 L422.00,94.97 L422.50,93.90 L423.00,95.14 L423.50,93.94 L424.00,95.10 L424.50,95.16 L425.00,95.62 L425.50,95.41 L426.00,96.28 L426.50,95.91 L427.00,95.79 L427.50,95.46 L428.00,96.75 L428.50,95.77 L429.00,96.51 L429.50,97.39 L430.00,97.28 L430.50,97.54 L431.00,97.00 L431.50,97.66 L432.00,97.75 L432.50,97.83 L433.00,97.20 L433.50,97.87 L434.00,97.13 L434.50,97.44 L435.00,97.48 L435.50,97.92 L436.00,98.16 L436.50,98.08 L437.00,97.73 L437.50,98.23 L438.00,97.15 L438.50,98.12 L439.00,98.43 L439.50,97.93 L440.00,98.19 L440.50,98.22 L441.00,98.21 L441.50,97.67 L442.00,98.29 L442.50,98.71 L443.00,98.56 L443.50,98.20 L444.00,98.65 L444.50,98.80 L445.00,98.93 L445.50,98.89 L446.00,98.91 L446.50,98.75 L447.00,98.94 L447.50,98.77 L448.00,98.79 L448.50,98.73 L449.00,98.70 L449.50,98.86 L450.00,98.96 L450.50,99.00 L451.00,99.37 L451.50,99.14 L452.00,99.03 L452.50,99.40 L453.00,99.23 L453.50,99.27 L454.00,99.36 L454.50,99.57 L455.00,99.50 L455.50,99.18 L456.00,99.42 L456.50,99.41 L457.00,99.49 L457.50,99.42 L458.00,99.69 L458.50,99.69 L459.00,99.89 L459.50,99.31 L460.00,99.75 L460.50,99.85 L461.00,99.73 L461.50,99.34 L462.00,99.85 L462.50,98.90 L463.00,100.00 L463.50,100.04 L464.00,100.15 L464.50,99.67 L465.00,100.09 L465.50,100.11 L466.00,100.11 L466.50,100.00 L467.00,100.26 L467.50,100.19 L468.00,99.97 L468.50,100.12 L469.00,100.21 L469.50,100.09 L470.00,100.18 L470.50,99.86 L471.00,100.36 L471.50,100.51 L472.00,100.05 L472.50,100.57 L473.00,100.15 L473.50,100.62 L474.00,100.61 L474.50,100.54 L475.00,100.51 L475.50,100.66 L476.00,100.38 L476.50,100.61 L477.00,100.58 L477.50,100.67 L478.00,100.66 L478.50,100.57 L479.00,100.30 L479.50,100.06 L480.00,100.63 L480.50,100.70 L481.00,100.17 L481.50,100.54 L482.00,100.36 L482.50,100.70 L483.00,100.67 L483.50,100.56 L484.00,100.55 L484.50,100.76 L485.00,100.69 L485.50,100.76 L486.00,100.70 L486.50,100.41 L487.00,100.75 L487.50,100.63 L488.00,100.86 L488.50,100.64 L489.00,100.84 L489.50,100.76 L490.00,100.86 L490.50,100.89 L491.00,100.59 L491.50,100.66 L492.00,100.79 L492.50,100.50 L493.00,100.77 L493.50,100.77 L494.00,100.72 L494.50,100.78 L495.00,100.56 L495.50,100.81 L496.00,100.89 L496.50,100.50 L497.00,100.86 L497.50,100.61 L498.00,100.87 L498.50,100.78 L499.00,100.65 L499.50,100.73 L500.00,100.86 L500.50,100.68 L501.00,100.86 L501.50,100.79 L502.00,100.97 L502.50,100.92 L503.00,100.88 L503.50,100.83 L504.00,100.84 L504.50,100.93 L505.00,100.85 L505.50,100.83 L506.00,100.96 L506.50,100.63 L507.00,100.94 L507.50,100.84 L508.00,100.89 L508.50,100.86 L509.00,100.88 L509.50,100.96 L510.00,100.83 L510.50,100.98 L511.00,100.97 L511.50,100.82 L512.00,101.01 L512.50,100.87 L513.00,100.89 L513.50,100.92 L514.00,100.99 L514.50,100.94 L515.00,100.96 L515.50,101.02 L516.00,100.98 L516.50,100.98 L517.00,101.03 L517.50,100.84 L518.00,100.96 L518.50,101.05 L519.00,100.95 L519.50,101.07 L519.50,101.72 L519.00,101.55 L518.50,101.65 L518.00,101.65 L517.50,101.63 L517.00,101.63 L516.50,101.58 L516.00,101.58 L515.50,101.62 L515.00,101.56 L514.50,101.58 L514.00,101.59 L513.50,101.57 L513.00,101.54 L512.50,101.47 L512.00,101.61 L511.50,101.65 L511.00,101.59 L510.50,101.58 L510.00,101.55 L509.50,101.56 L509.00,101.55 L508.50,101.57 L508.00,101.49 L507.50,101.44 L507.00,101.61 L506.50,101.61 L506.00,101.61 L505.50,101.48 L505.00,101.53 L504.50,101.53 L504.00,101.60 L503.50,101.50 L503.00,101.55 L502.50,101.72 L502.00,101.58 L501.50,101.67 L501.00,101.46 L500.50,101.49 L500.00,101.47 L499.50,101.57 L499.00,101.59 L498.50,101.58 L498.00,101.47 L497.50,101.70 L497.00,101.46 L496.50,101.44 L496.00,101.49 L495.50,101.41 L495.00,101.58 L494.50,101.45 L494.00,101.68 L493.50,101.58 L493.00,101.40 L492.50,101.46 L492.00,101.49 L491.50,101.39 L491.00,101.55 L490.50,101.49 L490.00,101.50 L489.50,101.63 L489.00,101.65 L488.50,101.59 L488.00,101.51 L487.50,101.46 L487.00,101.53 L486.50,101.43 L486.00,101.37 L485.50,101.36 L485.00,101.31 L484.50,101.36 L484.00,101.60 L483.50,101.55 L483.00,101.42 L482.50,101.50 L482.00,101.41 L481.50,101.40 L481.00,101.32 L480.50,101.30 L480.00,101.34 L479.50,101.43 L479.00,101.48 L478.50,101.42 L478.00,101.42 L477.50,101.44 L477.00,101.36 L476.50,101.25 L476.00,101.49 L475.50,101.44 L475.00,101.34 L474.50,101.25 L474.00,101.37 L473.50,101.50 L473.00,101.31 L472.50,101.40 L472.00,101.26 L471.50,101.44 L471.00,101.27 L470.50,101.30 L470.00,101.26 L469.50,101.30 L469.00,101.30 L468.50,101.29 L468.00,101.27 L467.50,101.23 L467.00,101.24 L466.50,101.33 L466.00,101.22 L465.50,101.24 L465.00,101.15 L464.50,101.22 L464.00,101.32 L463.50,101.22 L463.00,101.17 L462.50,101.20 L462.00,101.15 L461.50,101.17 L461.00,101.19 L460.50,101.21 L460.00,101.29 L459.50,101.21 L459.00,101.12 L458.50,101.12 L458.00,101.11 L457.50,101.19 L457.00,101.17 L456.50,101.12 L456.00,101.07 L455.50,101.20 L455.00,101.07 L454.50,101.09 L454.00,101.11 L453.50,101.17 L453.00,101.06 L452.50,101.06 L452.00,101.03 L451.50,101.09 L451.00,101.04 L450.50,101.05 L450.00,101.11 L449.50,101.02 L449.00,101.03 L448.50,101.12 L448.00,101.18 L447.50,101.03 L447.00,101.08 L446.50,101.27 L446.00,100.97 L445.50,101.12 L445.00,101.04 L444.50,101.33 L444.00,101.21 L443.50,101.08 L443.00,100.99 L442.50,100.99 L442.00,101.04 L441.50,101.04 L441.00,100.93 L440.50,101.16 L440.00,101.00 L439.50,100.93 L439.00,100.95 L438.50,101.25 L438.00,100.83 L437.50,101.00 L437.00,100.83 L436.50,100.95 L436.00,100.93 L435.50,100.83 L435.00,101.04 L434.50,100.88 L434.00,100.99 L433.50,100.67 L433.00,100.72 L432.50,100.69 L432.00,100.67 L431.50,100.86 L431.00,100.58 L430.50,100.55 L430.00,100.60 L429.50,100.67 L429.00,100.77 L428.50,100.98 L428.00,99.91 L427.50,99.98 L427.00,99.60 L426.50,99.74 L426.00,99.76 L425.50,99.62 L425.00,99.21 L424.50,99.13 L424.00,98.96 L423.50,99.21 L423.00,98.61 L422.50,98.99 L422.00,98.97 L421.50,98.44 L421.00,98.00 L420.50,97.85 L420.00,98.97 L419.50,97.97 L419.00,97.09 L418.50,96.89 L418.00,96.76 L417.50,96.01 L417.00,95.96 L416.50,95.47 L416.00,95.63 L415.50,94.66 L415.00,94.74 L414.50,94.42 L414.00,94.07 L413.50,94.40 L413.00,94.23 L412.50,93.65 L412.00,93.55 L411.50,93.32 L411.00,94.73 L410.50,93.99 L410.00,93.00 L409.50,93.06 L409.00,95.14 L408.50,92.64 L408.00,93.25 L407.50,93.28 L407.00,94.27 L406.50,94.52 L406.00,96.13 L405.50,94.12 L405.00,97.27 L404.50,94.91 L404.00,94.80 L403.50,96.70 L403.00,97.24 L402.50,97.12 L402.00,96.73 L401.50,96.16 L401.00,96.01 L400.50,96.39 L400.00,96.46 L399.50,98.52 L399.00,97.39 L398.50,98.52 L398.00,98.42 L397.50,98.59 L397.00,98.81 L396.50,98.75 L396.00,100.26 L395.50,99.27 L395.00,99.98 L394.50,99.31 L394.00,99.44 L393.50,100.17 L393.00,99.86 L392.50,100.22 L392.00,100.02 L391.50,100.42 L391.00,101.73 L390.50,101.33 L390.00,101.89 L389.50,101.77 L389.00,102.06 L388.50,102.17 L388.00,102.73 Z" fill="#dcc6e3" stroke="none" clip-path="url(#cB1)"/><path d="M388.00,97.09 L388.50,95.88 L389.00,94.93 L389.50,94.68 L390.00,92.48 L390.50,93.09 L391.00,92.17 L391.50,90.52 L392.00,90.55 L392.50,88.34 L393.00,88.74 L393.50,86.35 L394.00,85.30 L394.50,85.04 L395.00,83.61 L395.50,83.75 L396.00,85.33 L396.50,85.18 L397.00,80.88 L397.50,82.83 L398.00,81.99 L398.50,81.00 L399.00,77.70 L399.50,76.78 L400.00,78.05 L400.50,77.67 L401.00,75.86 L401.50,75.64 L402.00,75.83 L402.50,77.80 L403.00,77.34 L403.50,76.33 L404.00,76.77 L404.50,70.82 L405.00,73.75 L405.50,72.59 L406.00,75.34 L406.50,68.92 L407.00,66.47 L407.50,75.32 L408.00,70.17 L408.50,75.72 L409.00,74.81 L409.50,72.37 L410.00,77.82 L410.50,78.21 L411.00,78.49 L411.50,80.50 L412.00,78.44 L412.50,82.43 L413.00,84.21 L413.50,85.76 L414.00,86.50 L414.50,86.88 L415.00,88.02 L415.50,88.08 L416.00,88.39 L416.50,87.89 L417.00,90.50 L417.50,90.95 L418.00,89.63 L418.50,92.55 L419.00,92.09 L419.50,91.97 L420.00,92.87 L420.50,94.13 L421.00,94.31 L421.50,94.89 L422.00,94.97 L422.50,93.90 L423.00,95.14 L423.50,93.94 L424.00,95.10 L424.50,95.16 L425.00,95.62 L425.50,95.41 L426.00,96.28 L426.50,95.91 L427.00,95.79 L427.50,95.46 L428.00,96.75 L428.50,95.77 L429.00,96.51 L429.50,97.39 L430.00,97.28 L430.50,97.54 L431.00,97.00 L431.50,97.66 L432.00,97.75 L432.50,97.83 L433.00,97.20 L433.50,97.87 L434.00,97.13 L434.50,97.44 L435.00,97.48 L435.50,97.92 L436.00,98.16 L436.50,98.08 L437.00,97.73 L437.50,98.23 L438.00,97.15 L438.50,98.12 L439.00,98.43 L439.50,97.93 L440.00,98.19 L440.50,98.22 L441.00,98.21 L441.50,97.67 L442.00,98.29 L442.50,98.71 L443.00,98.56 L443.50,98.20 L444.00,98.65 L444.50,98.80 L445.00,98.93 L445.50,98.89 L446.00,98.91 L446.50,98.75 L447.00,98.94 L447.50,98.77 L448.00,98.79 L448.50,98.73 L449.00,98.70 L449.50,98.86 L450.00,98.96 L450.50,99.00 L451.00,99.37 L451.50,99.14 L452.00,99.03 L452.50,99.40 L453.00,99.23 L453.50,99.27 L454.00,99.36 L454.50,99.57 L455.00,99.50 L455.50,99.18 L456.00,99.42 L456.50,99.41 L457.00,99.49 L457.50,99.42 L458.00,99.69 L458.50,99.69 L459.00,99.89 L459.50,99.31 L460.00,99.75 L460.50,99.85 L461.00,99.73 L461.50,99.34 L462.00,99.85 L462.50,98.90 L463.00,100.00 L463.50,100.04 L464.00,100.15 L464.50,99.67 L465.00,100.09 L465.50,100.11 L466.00,100.11 L466.50,100.00 L467.00,100.26 L467.50,100.19 L468.00,99.97 L468.50,100.12 L469.00,100.21 L469.50,100.09 L470.00,100.18 L470.50,99.86 L471.00,100.36 L471.50,100.51 L472.00,100.05 L472.50,100.57 L473.00,100.15 L473.50,100.62 L474.00,100.61 L474.50,100.54 L475.00,100.51 L475.50,100.66 L476.00,100.38 L476.50,100.61 L477.00,100.58 L477.50,100.67 L478.00,100.66 L478.50,100.57 L479.00,100.30 L479.50,100.06 L480.00,100.63 L480.50,100.70 L481.00,100.17 L481.50,100.54 L482.00,100.36 L482.50,100.70 L483.00,100.67 L483.50,100.56 L484.00,100.55 L484.50,100.76 L485.00,100.69 L485.50,100.76 L486.00,100.70 L486.50,100.41 L487.00,100.75 L487.50,100.63 L488.00,100.86 L488.50,100.64 L489.00,100.84 L489.50,100.76 L490.00,100.86 L490.50,100.89 L491.00,100.59 L491.50,100.66 L492.00,100.79 L492.50,100.50 L493.00,100.77 L493.50,100.77 L494.00,100.72 L494.50,100.78 L495.00,100.56 L495.50,100.81 L496.00,100.89 L496.50,100.50 L497.00,100.86 L497.50,100.61 L498.00,100.87 L498.50,100.78 L499.00,100.65 L499.50,100.73 L500.00,100.86 L500.50,100.68 L501.00,100.86 L501.50,100.79 L502.00,100.97 L502.50,100.92 L503.00,100.88 L503.50,100.83 L504.00,100.84 L504.50,100.93 L505.00,100.85 L505.50,100.83 L506.00,100.96 L506.50,100.63 L507.00,100.94 L507.50,100.84 L508.00,100.89 L508.50,100.86 L509.00,100.88 L509.50,100.96 L510.00,100.83 L510.50,100.98 L511.00,100.97 L511.50,100.82 L512.00,101.01 L512.50,100.87 L513.00,100.89 L513.50,100.92 L514.00,100.99 L514.50,100.94 L515.00,100.96 L515.50,101.02 L516.00,100.98 L516.50,100.98 L517.00,101.03 L517.50,100.84 L518.00,100.96 L518.50,101.05 L519.00,100.95 L519.50,101.07" fill="none" stroke="#7a2690" stroke-width="0.90" stroke-linejoin="round" clip-path="url(#cB1)"/><path d="M388.00,102.73 L388.50,102.17 L389.00,102.06 L389.50,101.77 L390.00,101.89 L390.50,101.33 L391.00,101.73 L391.50,100.42 L392.00,100.02 L392.50,100.22 L393.00,99.86 L393.50,100.17 L394.00,99.44 L394.50,99.31 L395.00,99.98 L395.50,99.27 L396.00,100.26 L396.50,98.75 L397.00,98.81 L397.50,98.59 L398.00,98.42 L398.50,98.52 L399.00,97.39 L399.50,98.52 L400.00,96.46 L400.50,96.39 L401.00,96.01 L401.50,96.16 L402.00,96.73 L402.50,97.12 L403.00,97.24 L403.50,96.70 L404.00,94.80 L404.50,94.91 L405.00,97.27 L405.50,94.12 L406.00,96.13 L406.50,94.52 L407.00,94.27 L407.50,93.28 L408.00,93.25 L408.50,92.64 L409.00,95.14 L409.50,93.06 L410.00,93.00 L410.50,93.99 L411.00,94.73 L411.50,93.32 L412.00,93.55 L412.50,93.65 L413.00,94.23 L413.50,94.40 L414.00,94.07 L414.50,94.42 L415.00,94.74 L415.50,94.66 L416.00,95.63 L416.50,95.47 L417.00,95.96 L417.50,96.01 L418.00,96.76 L418.50,96.89 L419.00,97.09 L419.50,97.97 L420.00,98.97 L420.50,97.85 L421.00,98.00 L421.50,98.44 L422.00,98.97 L422.50,98.99 L423.00,98.61 L423.50,99.21 L424.00,98.96 L424.50,99.13 L425.00,99.21 L425.50,99.62 L426.00,99.76 L426.50,99.74 L427.00,99.60 L427.50,99.98 L428.00,99.91 L428.50,100.98 L429.00,100.77 L429.50,100.67 L430.00,100.60 L430.50,100.55 L431.00,100.58 L431.50,100.86 L432.00,100.67 L432.50,100.69 L433.00,100.72 L433.50,100.67 L434.00,100.99 L434.50,100.88 L435.00,101.04 L435.50,100.83 L436.00,100.93 L436.50,100.95 L437.00,100.83 L437.50,101.00 L438.00,100.83 L438.50,101.25 L439.00,100.95 L439.50,100.93 L440.00,101.00 L440.50,101.16 L441.00,100.93 L441.50,101.04 L442.00,101.04 L442.50,100.99 L443.00,100.99 L443.50,101.08 L444.00,101.21 L444.50,101.33 L445.00,101.04 L445.50,101.12 L446.00,100.97 L446.50,101.27 L447.00,101.08 L447.50,101.03 L448.00,101.18 L448.50,101.12 L449.00,101.03 L449.50,101.02 L450.00,101.11 L450.50,101.05 L451.00,101.04 L451.50,101.09 L452.00,101.03 L452.50,101.06 L453.00,101.06 L453.50,101.17 L454.00,101.11 L454.50,101.09 L455.00,101.07 L455.50,101.20 L456.00,101.07 L456.50,101.12 L457.00,101.17 L457.50,101.19 L458.00,101.11 L458.50,101.12 L459.00,101.12 L459.50,101.21 L460.00,101.29 L460.50,101.21 L461.00,101.19 L461.50,101.17 L462.00,101.15 L462.50,101.20 L463.00,101.17 L463.50,101.22 L464.00,101.32 L464.50,101.22 L465.00,101.15 L465.50,101.24 L466.00,101.22 L466.50,101.33 L467.00,101.24 L467.50,101.23 L468.00,101.27 L468.50,101.29 L469.00,101.30 L469.50,101.30 L470.00,101.26 L470.50,101.30 L471.00,101.27 L471.50,101.44 L472.00,101.26 L472.50,101.40 L473.00,101.31 L473.50,101.50 L474.00,101.37 L474.50,101.25 L475.00,101.34 L475.50,101.44 L476.00,101.49 L476.50,101.25 L477.00,101.36 L477.50,101.44 L478.00,101.42 L478.50,101.42 L479.00,101.48 L479.50,101.43 L480.00,101.34 L480.50,101.30 L481.00,101.32 L481.50,101.40 L482.00,101.41 L482.50,101.50 L483.00,101.42 L483.50,101.55 L484.00,101.60 L484.50,101.36 L485.00,101.31 L485.50,101.36 L486.00,101.37 L486.50,101.43 L487.00,101.53 L487.50,101.46 L488.00,101.51 L488.50,101.59 L489.00,101.65 L489.50,101.63 L490.00,101.50 L490.50,101.49 L491.00,101.55 L491.50,101.39 L492.00,101.49 L492.50,101.46 L493.00,101.40 L493.50,101.58 L494.00,101.68 L494.50,101.45 L495.00,101.58 L495.50,101.41 L496.00,101.49 L496.50,101.44 L497.00,101.46 L497.50,101.70 L498.00,101.47 L498.50,101.58 L499.00,101.59 L499.50,101.57 L500.00,101.47 L500.50,101.49 L501.00,101.46 L501.50,101.67 L502.00,101.58 L502.50,101.72 L503.00,101.55 L503.50,101.50 L504.00,101.60 L504.50,101.53 L505.00,101.53 L505.50,101.48 L506.00,101.61 L506.50,101.61 L507.00,101.61 L507.50,101.44 L508.00,101.49 L508.50,101.57 L509.00,101.55 L509.50,101.56 L510.00,101.55 L510.50,101.58 L511.00,101.59 L511.50,101.65 L512.00,101.61 L512.50,101.47 L513.00,101.54 L513.50,101.57 L514.00,101.59 L514.50,101.58 L515.00,101.56 L515.50,101.62 L516.00,101.58 L516.50,101.58 L517.00,101.63 L517.50,101.63 L518.00,101.65 L518.50,101.65 L519.00,101.55 L519.50,101.72" fill="none" stroke="#7a2690" stroke-width="0.90" stroke-linejoin="round" clip-path="url(#cB1)"/><path d="M388.00,97.89 L388.50,97.50 L389.00,96.48 L389.50,99.30 L390.00,94.99 L390.50,94.70 L391.00,95.75 L391.50,93.26 L392.00,92.06 L392.50,93.98 L393.00,91.33 L393.50,88.14 L394.00,89.89 L394.50,90.03 L395.00,87.92 L395.50,89.88 L396.00,89.89 L396.50,87.67 L397.00,82.34 L397.50,83.30 L398.00,86.57 L398.50,88.71 L399.00,86.71 L399.50,87.24 L400.00,88.15 L400.50,83.59 L401.00,84.83 L401.50,78.58 L402.00,84.77 L402.50,83.98 L403.00,83.26 L403.50,81.24 L404.00,80.52 L404.50,79.23 L405.00,84.07 L405.50,78.22 L406.00,80.48 L406.50,75.04 L407.00,76.32 L407.50,79.08 L408.00,79.17 L408.50,80.47 L409.00,81.55 L409.50,77.86 L410.00,80.40 L410.50,82.68 L411.00,85.15 L411.50,87.28 L412.00,82.50 L412.50,87.24 L413.00,87.90 L413.50,88.61 L414.00,87.14 L414.50,89.63 L415.00,88.96 L415.50,91.16 L416.00,90.95 L416.50,90.86 L417.00,90.50 L417.50,92.96 L418.00,92.28 L418.50,92.84 L419.00,93.75 L419.50,93.72 L420.00,93.99 L420.50,94.59 L421.00,94.68 L421.50,95.36 L422.00,97.16 L422.50,95.44 L423.00,96.24 L423.50,95.05 L424.00,95.72 L424.50,95.70 L425.00,96.01 L425.50,96.75 L426.00,96.76 L426.50,97.12 L427.00,96.25 L427.50,97.06 L428.00,97.15 L428.50,97.39 L429.00,97.41 L429.50,97.39 L430.00,98.32 L430.50,97.75 L431.00,97.58 L431.50,97.95 L432.00,97.98 L432.50,97.92 L433.00,98.05 L433.50,98.36 L434.00,97.62 L434.50,97.67 L435.00,98.38 L435.50,98.72 L436.00,98.70 L436.50,98.10 L437.00,98.63 L437.50,98.68 L438.00,98.34 L438.50,98.76 L439.00,98.66 L439.50,98.72 L440.00,99.27 L440.50,98.72 L441.00,98.32 L441.50,98.43 L442.00,98.79 L442.50,98.71 L443.00,98.84 L443.50,98.99 L444.00,99.07 L444.50,99.43 L445.00,98.93 L445.50,99.31 L446.00,99.63 L446.50,99.22 L447.00,99.16 L447.50,98.90 L448.00,99.33 L448.50,99.22 L449.00,98.99 L449.50,99.53 L450.00,99.58 L450.50,99.44 L451.00,99.37 L451.50,99.53 L452.00,99.58 L452.50,99.40 L453.00,99.77 L453.50,99.95 L454.00,100.05 L454.50,99.76 L455.00,99.72 L455.50,99.91 L456.00,99.96 L456.50,100.08 L457.00,100.05 L457.50,99.81 L458.00,99.95 L458.50,99.69 L459.00,100.23 L459.50,100.30 L460.00,100.03 L460.50,100.08 L461.00,100.29 L461.50,99.87 L462.00,99.87 L462.50,99.47 L463.00,100.14 L463.50,100.66 L464.00,100.26 L464.50,100.26 L465.00,100.47 L465.50,100.61 L466.00,100.61 L466.50,100.72 L467.00,100.26 L467.50,100.39 L468.00,100.31 L468.50,100.37 L469.00,100.91 L469.50,100.09 L470.00,100.49 L470.50,100.06 L471.00,100.74 L471.50,100.94 L472.00,100.36 L472.50,101.01 L473.00,100.48 L473.50,101.02 L474.00,100.85 L474.50,100.63 L475.00,100.61 L475.50,100.86 L476.00,100.83 L476.50,100.76 L477.00,100.96 L477.50,100.86 L478.00,100.83 L478.50,100.75 L479.00,100.59 L479.50,100.30 L480.00,100.68 L480.50,100.90 L481.00,100.49 L481.50,100.77 L482.00,100.74 L482.50,101.03 L483.00,100.93 L483.50,100.96 L484.00,100.82 L484.50,100.87 L485.00,100.77 L485.50,100.88 L486.00,100.78 L486.50,100.69 L487.00,100.95 L487.50,100.84 L488.00,100.99 L488.50,100.88 L489.00,101.19 L489.50,100.98 L490.00,100.94 L490.50,101.04 L491.00,100.76 L491.50,100.75 L492.00,100.98 L492.50,100.61 L493.00,100.77 L493.50,101.03 L494.00,101.14 L494.50,100.82 L495.00,100.77 L495.50,100.98 L496.00,100.89 L496.50,100.69 L497.00,100.91 L497.50,100.94 L498.00,100.87 L498.50,101.09 L499.00,100.92 L499.50,101.00 L500.00,100.98 L500.50,100.69 L501.00,100.98 L501.50,100.91 L502.00,101.11 L502.50,101.06 L503.00,101.02 L503.50,100.98 L504.00,101.12 L504.50,101.12 L505.00,100.94 L505.50,100.99 L506.00,101.23 L506.50,101.00 L507.00,101.05 L507.50,100.97 L508.00,101.00 L508.50,101.12 L509.00,101.05 L509.50,101.12 L510.00,101.21 L510.50,101.02 L511.00,101.04 L511.50,100.89 L512.00,101.03 L512.50,101.07 L513.00,101.07 L513.50,101.21 L514.00,100.99 L514.50,101.02 L515.00,101.20 L515.50,101.23 L516.00,101.17 L516.50,101.17 L517.00,101.17 L517.50,101.06 L518.00,101.14 L518.50,101.25 L519.00,101.07 L519.50,101.25" fill="none" stroke="#7a2690" stroke-width="0.6" stroke-opacity="0.8" clip-path="url(#cB1)"/><path d="M388.00,102.73 L388.50,100.26 L389.00,100.15 L389.50,101.12 L390.00,100.32 L390.50,99.69 L391.00,101.73 L391.50,99.11 L392.00,98.19 L392.50,100.22 L393.00,99.86 L393.50,96.11 L394.00,95.98 L394.50,97.25 L395.00,96.34 L395.50,99.27 L396.00,97.58 L396.50,95.92 L397.00,97.69 L397.50,94.99 L398.00,94.67 L398.50,95.98 L399.00,97.39 L399.50,89.69 L400.00,95.10 L400.50,96.39 L401.00,95.15 L401.50,96.16 L402.00,95.67 L402.50,94.04 L403.00,94.11 L403.50,91.43 L404.00,94.80 L404.50,88.65 L405.00,93.06 L405.50,89.66 L406.00,88.64 L406.50,84.33 L407.00,89.49 L407.50,91.43 L408.00,91.21 L408.50,91.94 L409.00,91.56 L409.50,89.16 L410.00,91.45 L410.50,93.24 L411.00,90.30 L411.50,89.56 L412.00,89.54 L412.50,93.65 L413.00,93.70 L413.50,92.04 L414.00,92.81 L414.50,94.24 L415.00,94.52 L415.50,93.33 L416.00,94.05 L416.50,95.47 L417.00,95.96 L417.50,96.01 L418.00,94.62 L418.50,96.13 L419.00,95.73 L419.50,96.92 L420.00,96.99 L420.50,96.74 L421.00,97.16 L421.50,98.27 L422.00,98.22 L422.50,98.37 L423.00,98.07 L423.50,97.88 L424.00,98.02 L424.50,98.74 L425.00,98.72 L425.50,99.62 L426.00,98.90 L426.50,98.82 L427.00,98.14 L427.50,99.26 L428.00,98.24 L428.50,100.79 L429.00,99.49 L429.50,99.43 L430.00,99.13 L430.50,99.38 L431.00,99.21 L431.50,100.48 L432.00,99.60 L432.50,99.22 L433.00,99.05 L433.50,99.76 L434.00,99.84 L434.50,99.68 L435.00,100.41 L435.50,99.94 L436.00,100.03 L436.50,99.87 L437.00,99.89 L437.50,99.92 L438.00,99.53 L438.50,100.55 L439.00,100.27 L439.50,99.67 L440.00,100.54 L440.50,100.92 L441.00,100.36 L441.50,100.85 L442.00,100.15 L442.50,100.46 L443.00,99.99 L443.50,100.06 L444.00,99.97 L444.50,100.52 L445.00,100.43 L445.50,100.44 L446.00,100.62 L446.50,100.70 L447.00,100.27 L447.50,100.58 L448.00,100.34 L448.50,101.01 L449.00,101.03 L449.50,100.65 L450.00,100.28 L450.50,100.29 L451.00,100.64 L451.50,100.46 L452.00,100.65 L452.50,100.65 L453.00,100.76 L453.50,100.73 L454.00,100.61 L454.50,100.57 L455.00,100.70 L455.50,101.12 L456.00,100.98 L456.50,100.97 L457.00,100.81 L457.50,100.95 L458.00,100.94 L458.50,101.02 L459.00,100.91 L459.50,100.48 L460.00,101.14 L460.50,100.98 L461.00,100.90 L461.50,100.91 L462.00,100.84 L462.50,100.92 L463.00,100.70 L463.50,101.04 L464.00,101.08 L464.50,100.94 L465.00,100.60 L465.50,101.04 L466.00,101.12 L466.50,101.22 L467.00,100.98 L467.50,100.96 L468.00,101.03 L468.50,101.13 L469.00,101.12 L469.50,100.92 L470.00,101.26 L470.50,101.19 L471.00,101.11 L471.50,101.12 L472.00,101.12 L472.50,101.34 L473.00,101.01 L473.50,101.34 L474.00,101.03 L474.50,101.11 L475.00,101.04 L475.50,101.37 L476.00,101.49 L476.50,101.09 L477.00,101.26 L477.50,101.33 L478.00,101.26 L478.50,101.26 L479.00,101.23 L479.50,101.43 L480.00,101.23 L480.50,101.09 L481.00,101.23 L481.50,101.19 L482.00,101.08 L482.50,101.48 L483.00,101.17 L483.50,101.55 L484.00,101.49 L484.50,101.29 L485.00,101.21 L485.50,101.31 L486.00,101.24 L486.50,101.36 L487.00,101.42 L487.50,101.43 L488.00,101.34 L488.50,101.57 L489.00,101.65 L489.50,101.49 L490.00,101.40 L490.50,101.32 L491.00,101.38 L491.50,101.27 L492.00,101.33 L492.50,101.22 L493.00,101.26 L493.50,101.47 L494.00,101.59 L494.50,101.37 L495.00,101.22 L495.50,101.37 L496.00,101.34 L496.50,101.22 L497.00,101.30 L497.50,101.62 L498.00,101.40 L498.50,101.41 L499.00,101.47 L499.50,101.27 L500.00,101.35 L500.50,101.33 L501.00,101.29 L501.50,101.62 L502.00,101.58 L502.50,101.68 L503.00,101.35 L503.50,101.49 L504.00,101.44 L504.50,101.39 L505.00,101.35 L505.50,101.38 L506.00,101.52 L506.50,101.49 L507.00,101.46 L507.50,101.29 L508.00,101.32 L508.50,101.52 L509.00,101.37 L509.50,101.41 L510.00,101.40 L510.50,101.39 L511.00,101.44 L511.50,101.37 L512.00,101.51 L512.50,101.38 L513.00,101.39 L513.50,101.56 L514.00,101.40 L514.50,101.49 L515.00,101.46 L515.50,101.45 L516.00,101.42 L516.50,101.50 L517.00,101.50 L517.50,101.53 L518.00,101.63 L518.50,101.53 L519.00,101.30 L519.50,101.53" fill="none" stroke="#7a2690" stroke-width="0.6" stroke-opacity="0.8" clip-path="url(#cB1)"/><path d="M396.00,73.60 L396.00,104.50" stroke="#7a2690" stroke-width="0.80" clip-path="url(#cB1)"/><path d="M400.50,77.00 L400.50,97.30" stroke="#7a2690" stroke-width="0.60" clip-path="url(#cB1)"/><path d="M406.00,66.00 L406.00,94.30" stroke="#7a2690" stroke-width="0.90" clip-path="url(#cB1)"/><path d="M404.50,73.30 L404.50,93.30" stroke="#7a2690" stroke-width="0.60" clip-path="url(#cB1)"/><path d="M408.70,74.30 L408.70,92.30" stroke="#7a2690" stroke-width="0.60" clip-path="url(#cB1)"/><path d="M428.70,92.40 L428.70,99.80" stroke="#7a2690" stroke-width="0.60" clip-path="url(#cB1)"/><path d="M444.00,96.40 L444.00,100.50" stroke="#7a2690" stroke-width="0.50" clip-path="url(#cB1)"/><path d="M398.50,81.30 L398.50,99.30" stroke="#7a2690" stroke-width="0.50" clip-path="url(#cB1)"/><path d="M411.00,78.30 L411.00,93.30" stroke="#7a2690" stroke-width="0.50" clip-path="url(#cB1)"/><path d="M393.00,88.30 L393.00,101.30" stroke="#7a2690" stroke-width="0.50" clip-path="url(#cB1)"/><path d="M388.00,100.67 L388.50,99.83 L389.00,99.25 L389.50,99.26 L390.00,99.06 L390.50,98.03 L391.00,97.25 L391.50,96.41 L392.00,97.01 L392.50,96.78 L393.00,95.41 L393.50,95.23 L394.00,94.28 L394.50,94.29 L395.00,94.67 L395.50,94.49 L396.00,92.20 L396.50,93.91 L397.00,93.97 L397.50,93.93 L398.00,92.73 L398.50,92.39 L399.00,92.46 L399.50,91.95 L400.00,91.39 L400.50,90.75 L401.00,90.12 L401.50,90.53 L402.00,91.87 L402.50,89.52 L403.00,90.99 L403.50,89.65 L404.00,90.47 L404.50,88.60 L405.00,88.69 L405.50,87.21 L406.00,83.83 L406.50,87.04 L407.00,86.48 L407.50,88.51 L408.00,87.84 L408.50,87.27 L409.00,88.07 L409.50,87.92 L410.00,88.32 L410.50,89.52 L411.00,88.81 L411.50,90.15 L412.00,88.76 L412.50,90.72 L413.00,90.37 L413.50,91.20 L414.00,91.05 L414.50,92.34 L415.00,91.86 L415.50,92.86 L416.00,92.57 L416.50,93.23 L417.00,93.81 L417.50,94.59 L418.00,94.19 L418.50,94.67 L419.00,94.47 L419.50,95.73 L420.00,95.65 L420.50,95.86 L421.00,96.14 L421.50,96.35 L422.00,96.54 L422.50,97.04 L423.00,97.39 L423.50,97.32 L424.00,97.11 L424.50,96.95 L425.00,97.34 L425.50,97.41 L426.00,97.60 L426.50,97.73 L427.00,98.00 L427.50,97.89 L428.00,97.66 L428.50,98.44 L429.00,98.64 L429.50,97.91 L430.00,98.53 L430.50,98.36 L431.00,98.43 L431.50,99.06 L432.00,98.09 L432.50,98.33 L433.00,98.82 L433.50,98.71 L434.00,98.93 L434.50,99.24 L435.00,99.08 L435.50,99.00 L436.00,98.86 L436.50,99.01 L437.00,99.22 L437.50,98.94 L438.00,99.50 L438.50,99.18 L439.00,99.15 L439.50,99.52 L440.00,99.90 L440.50,99.72 L441.00,99.49 L441.50,99.45 L442.00,99.25 L442.50,99.81 L443.00,99.62 L443.50,99.51 L444.00,99.69 L444.50,100.13 L445.00,99.55 L445.50,99.30 L446.00,99.56 L446.50,99.92 L447.00,99.85 L447.50,99.76 L448.00,99.41 L448.50,99.74 L449.00,99.84 L449.50,99.64 L450.00,99.91 L450.50,99.65 L451.00,100.06 L451.50,100.06 L452.00,99.91 L452.50,99.84 L453.00,99.98 L453.50,100.07 L454.00,100.40 L454.50,100.27 L455.00,100.29 L455.50,100.31 L456.00,100.18 L456.50,100.34 L457.00,100.21 L457.50,100.34 L458.00,100.43 L458.50,100.39 L459.00,100.38 L459.50,100.35 L460.00,100.56 L460.50,100.55 L461.00,100.72 L461.50,100.34 L462.00,100.37 L462.50,100.61 L463.00,100.66 L463.50,100.78 L464.00,100.61 L464.50,100.62 L465.00,100.39 L465.50,100.65 L466.00,100.80 L466.50,101.03 L467.00,100.56 L467.50,100.73 L468.00,100.97 L468.50,100.76 L469.00,101.00 L469.50,100.39 L470.00,100.70 L470.50,100.78 L471.00,100.89 L471.50,101.14 L472.00,100.91 L472.50,101.10 L473.00,100.86 L473.50,101.20 L474.00,101.07 L474.50,100.84 L475.00,100.81 L475.50,101.14 L476.00,101.19 L476.50,100.92 L477.00,100.93 L477.50,101.14 L478.00,101.12 L478.50,101.12 L479.00,101.18 L479.50,101.13 L480.00,100.93 L480.50,101.00 L481.00,100.86 L481.50,101.10 L482.00,101.11 L482.50,101.20 L483.00,101.12 L483.50,101.25 L484.00,101.30 L484.50,101.06 L485.00,100.99 L485.50,101.06 L486.00,101.02 L486.50,101.13 L487.00,101.23 L487.50,101.16 L488.00,101.21 L488.50,101.29 L489.00,101.35 L489.50,101.33 L490.00,101.20 L490.50,101.19 L491.00,101.25 L491.50,101.08 L492.00,101.19 L492.50,101.16 L493.00,101.10 L493.50,101.28 L494.00,101.38 L494.50,101.15 L495.00,101.28 L495.50,101.11 L496.00,101.19 L496.50,101.14 L497.00,101.16 L497.50,101.40 L498.00,101.17 L498.50,101.28 L499.00,101.29 L499.50,101.27 L500.00,101.17 L500.50,101.17 L501.00,101.16 L501.50,101.37 L502.00,101.28 L502.50,101.42 L503.00,101.25 L503.50,101.20 L504.00,101.30 L504.50,101.23 L505.00,101.23 L505.50,101.18 L506.00,101.31 L506.50,101.31 L507.00,101.31 L507.50,101.14 L508.00,101.19 L508.50,101.27 L509.00,101.25 L509.50,101.26 L510.00,101.25 L510.50,101.28 L511.00,101.29 L511.50,101.35 L512.00,101.31 L512.50,101.17 L513.00,101.24 L513.50,101.27 L514.00,101.29 L514.50,101.28 L515.00,101.26 L515.50,101.32 L516.00,101.28 L516.50,101.28 L517.00,101.33 L517.50,101.33 L518.00,101.35 L518.50,101.35 L519.00,101.25 L519.50,101.42" fill="none" stroke="#000" stroke-width="1.30" stroke-linejoin="round" clip-path="url(#cB1)"/>
<path d="M539.00,98.47 L539.50,96.82 L540.00,96.34 L540.50,94.00 L541.00,94.19 L541.50,92.80 L542.00,92.00 L542.50,91.17 L543.00,89.69 L543.50,88.10 L544.00,86.28 L544.50,87.45 L545.00,84.89 L545.50,84.27 L546.00,78.37 L546.50,82.23 L547.00,81.47 L547.50,76.71 L548.00,79.57 L548.50,76.44 L549.00,73.21 L549.50,73.24 L550.00,70.41 L550.50,73.11 L551.00,74.84 L551.50,71.54 L552.00,73.90 L552.50,71.86 L553.00,72.70 L553.50,68.54 L554.00,71.42 L554.50,73.99 L555.00,74.12 L555.50,72.35 L556.00,73.61 L556.50,75.85 L557.00,73.61 L557.50,73.46 L558.00,74.78 L558.50,73.89 L559.00,69.69 L559.50,69.88 L560.00,71.36 L560.50,71.14 L561.00,71.10 L561.50,76.06 L562.00,71.88 L562.50,73.14 L563.00,76.56 L563.50,75.43 L564.00,77.91 L564.50,77.62 L565.00,79.62 L565.50,80.69 L566.00,79.84 L566.50,81.40 L567.00,83.60 L567.50,84.92 L568.00,83.59 L568.50,84.25 L569.00,84.10 L569.50,85.78 L570.00,87.03 L570.50,88.14 L571.00,82.05 L571.50,88.14 L572.00,89.76 L572.50,88.51 L573.00,90.20 L573.50,85.30 L574.00,88.45 L574.50,89.83 L575.00,88.66 L575.50,89.05 L576.00,91.79 L576.50,93.20 L577.00,92.47 L577.50,92.24 L578.00,91.99 L578.50,93.67 L579.00,94.46 L579.50,93.95 L580.00,95.13 L580.50,95.69 L581.00,94.85 L581.50,95.00 L582.00,96.29 L582.50,94.82 L583.00,95.62 L583.50,96.58 L584.00,96.71 L584.50,96.87 L585.00,97.27 L585.50,96.45 L586.00,96.83 L586.50,97.43 L587.00,97.81 L587.50,97.27 L588.00,98.21 L588.50,97.08 L589.00,97.77 L589.50,97.70 L590.00,97.35 L590.50,98.37 L591.00,98.73 L591.50,98.50 L592.00,98.68 L592.50,98.69 L593.00,98.37 L593.50,98.81 L594.00,98.23 L594.50,98.18 L595.00,98.74 L595.50,98.31 L596.00,97.29 L596.50,96.97 L597.00,96.35 L597.50,95.98 L598.00,94.97 L598.50,96.09 L599.00,96.97 L599.50,97.04 L600.00,97.61 L600.50,98.08 L601.00,98.81 L601.50,98.57 L602.00,99.19 L602.50,99.35 L603.00,99.32 L603.50,99.34 L604.00,99.54 L604.50,99.65 L605.00,99.53 L605.50,99.67 L606.00,99.96 L606.50,99.89 L607.00,99.95 L607.50,99.73 L608.00,100.01 L608.50,100.03 L609.00,99.72 L609.50,100.03 L610.00,100.09 L610.50,100.07 L611.00,99.74 L611.50,100.29 L612.00,100.30 L612.50,100.02 L613.00,100.24 L613.50,100.07 L614.00,100.13 L614.50,100.06 L615.00,99.91 L615.50,100.21 L616.00,100.20 L616.50,100.34 L617.00,99.78 L617.50,100.55 L618.00,100.32 L618.50,100.22 L619.00,100.61 L619.50,100.26 L620.00,100.56 L620.50,100.08 L621.00,100.57 L621.50,100.12 L622.00,100.57 L622.50,100.42 L623.00,100.45 L623.50,100.61 L624.00,100.72 L624.50,100.34 L625.00,100.65 L625.50,100.72 L626.00,100.55 L626.50,100.65 L627.00,100.10 L627.50,100.51 L628.00,100.66 L628.50,100.36 L629.00,100.69 L629.50,100.61 L630.00,100.67 L630.50,100.72 L631.00,100.64 L631.50,100.69 L632.00,100.60 L632.50,100.70 L633.00,100.61 L633.50,100.37 L634.00,100.56 L634.50,100.67 L635.00,100.41 L635.50,100.54 L636.00,100.65 L636.50,100.73 L637.00,100.59 L637.50,100.59 L638.00,100.77 L638.50,100.69 L639.00,100.42 L639.50,100.54 L640.00,100.57 L640.50,100.85 L641.00,100.69 L641.50,100.87 L642.00,100.72 L642.50,100.87 L643.00,100.78 L643.50,100.66 L644.00,100.35 L644.50,100.83 L645.00,100.73 L645.50,100.94 L646.00,100.81 L646.50,100.69 L647.00,100.74 L647.50,100.29 L648.00,100.77 L648.50,100.87 L649.00,100.75 L649.50,100.82 L650.00,100.87 L650.50,100.43 L651.00,100.95 L651.50,100.83 L652.00,100.89 L652.50,100.87 L653.00,101.01 L653.50,100.95 L654.00,100.90 L654.50,100.81 L655.00,100.84 L655.50,100.85 L656.00,101.03 L656.50,100.75 L657.00,101.02 L657.50,100.79 L658.00,100.94 L658.50,100.95 L659.00,100.77 L659.50,101.05 L660.00,100.78 L660.50,100.98 L661.00,100.96 L661.50,101.08 L662.00,100.93 L662.50,101.07 L663.00,100.93 L663.50,100.96 L664.00,101.07 L664.50,100.98 L665.00,101.01 L665.50,101.02 L666.00,101.11 L666.50,101.11 L667.00,101.05 L667.50,101.06 L668.00,101.15 L668.50,101.08 L669.00,101.14 L669.50,101.04 L670.00,101.12 L670.50,101.06 L671.00,101.06 L671.50,101.12 L672.00,101.06 L672.50,101.07 L672.50,101.67 L672.00,101.66 L671.50,101.72 L671.00,101.66 L670.50,101.66 L670.00,101.72 L669.50,101.64 L669.00,101.75 L668.50,101.78 L668.00,101.75 L667.50,101.66 L667.00,101.73 L666.50,101.71 L666.00,101.73 L665.50,101.70 L665.00,101.68 L664.50,101.73 L664.00,101.70 L663.50,101.71 L663.00,101.63 L662.50,101.69 L662.00,101.66 L661.50,101.78 L661.00,101.63 L660.50,101.61 L660.00,101.78 L659.50,101.79 L659.00,101.65 L658.50,101.70 L658.00,101.80 L657.50,101.68 L657.00,101.67 L656.50,101.67 L656.00,101.63 L655.50,101.59 L655.00,101.71 L654.50,101.58 L654.00,101.75 L653.50,101.65 L653.00,101.65 L652.50,101.66 L652.00,101.62 L651.50,101.72 L651.00,101.67 L650.50,101.61 L650.00,101.81 L649.50,101.86 L649.00,101.49 L648.50,101.48 L648.00,101.70 L647.50,101.76 L647.00,101.73 L646.50,101.62 L646.00,101.56 L645.50,101.74 L645.00,101.63 L644.50,101.65 L644.00,101.75 L643.50,101.52 L643.00,101.60 L642.50,101.62 L642.00,101.97 L641.50,101.62 L641.00,101.60 L640.50,101.70 L640.00,101.59 L639.50,101.64 L639.00,101.61 L638.50,101.58 L638.00,101.69 L637.50,101.52 L637.00,101.61 L636.50,101.68 L636.00,101.68 L635.50,101.64 L635.00,101.66 L634.50,101.59 L634.00,101.61 L633.50,101.60 L633.00,101.65 L632.50,101.63 L632.00,101.52 L631.50,101.54 L631.00,101.56 L630.50,101.64 L630.00,101.56 L629.50,101.70 L629.00,101.61 L628.50,101.58 L628.00,101.64 L627.50,101.68 L627.00,101.69 L626.50,101.52 L626.00,101.57 L625.50,101.75 L625.00,101.57 L624.50,101.46 L624.00,101.60 L623.50,101.56 L623.00,101.65 L622.50,101.49 L622.00,101.53 L621.50,101.51 L621.00,101.50 L620.50,101.47 L620.00,101.54 L619.50,101.49 L619.00,101.47 L618.50,101.49 L618.00,101.51 L617.50,101.60 L617.00,101.51 L616.50,101.52 L616.00,101.51 L615.50,101.53 L615.00,101.45 L614.50,101.52 L614.00,101.47 L613.50,101.53 L613.00,101.63 L612.50,101.51 L612.00,101.53 L611.50,101.42 L611.00,101.55 L610.50,101.60 L610.00,101.51 L609.50,101.50 L609.00,101.49 L608.50,101.46 L608.00,101.43 L607.50,101.54 L607.00,101.54 L606.50,101.45 L606.00,101.58 L605.50,101.50 L605.00,101.42 L604.50,101.56 L604.00,101.75 L603.50,101.85 L603.00,101.79 L602.50,101.81 L602.00,101.89 L601.50,102.03 L601.00,102.06 L600.50,102.36 L600.00,102.61 L599.50,102.74 L599.00,102.94 L598.50,103.24 L598.00,103.49 L597.50,103.10 L597.00,102.86 L596.50,102.52 L596.00,102.00 L595.50,102.15 L595.00,101.94 L594.50,101.89 L594.00,101.88 L593.50,102.35 L593.00,101.99 L592.50,101.91 L592.00,101.62 L591.50,101.56 L591.00,101.53 L590.50,101.64 L590.00,101.86 L589.50,101.42 L589.00,101.38 L588.50,101.55 L588.00,102.02 L587.50,101.40 L587.00,101.70 L586.50,101.41 L586.00,101.76 L585.50,101.67 L585.00,101.24 L584.50,101.76 L584.00,101.36 L583.50,101.34 L583.00,101.17 L582.50,101.61 L582.00,102.06 L581.50,101.58 L581.00,101.02 L580.50,101.21 L580.00,101.12 L579.50,101.20 L579.00,100.70 L578.50,100.87 L578.00,100.29 L577.50,100.24 L577.00,100.29 L576.50,100.00 L576.00,100.93 L575.50,100.41 L575.00,99.85 L574.50,100.02 L574.00,100.05 L573.50,99.59 L573.00,99.43 L572.50,99.68 L572.00,99.47 L571.50,99.82 L571.00,100.39 L570.50,98.26 L570.00,98.22 L569.50,97.92 L569.00,98.70 L568.50,98.63 L568.00,97.15 L567.50,96.99 L567.00,97.50 L566.50,97.17 L566.00,96.92 L565.50,96.47 L565.00,95.73 L564.50,95.73 L564.00,96.34 L563.50,95.41 L563.00,96.07 L562.50,95.24 L562.00,96.94 L561.50,94.93 L561.00,95.65 L560.50,94.29 L560.00,95.45 L559.50,95.54 L559.00,95.76 L558.50,96.17 L558.00,95.29 L557.50,96.39 L557.00,96.96 L556.50,96.12 L556.00,100.30 L555.50,97.56 L555.00,99.32 L554.50,100.53 L554.00,99.98 L553.50,100.08 L553.00,99.69 L552.50,100.96 L552.00,101.19 L551.50,98.96 L551.00,99.29 L550.50,98.56 L550.00,99.42 L549.50,100.36 L549.00,100.13 L548.50,102.01 L548.00,100.02 L547.50,99.31 L547.00,100.01 L546.50,100.84 L546.00,100.65 L545.50,101.77 L545.00,100.55 L544.50,101.86 L544.00,101.46 L543.50,100.70 L543.00,100.81 L542.50,102.14 L542.00,101.95 L541.50,101.40 L541.00,101.64 L540.50,101.23 L540.00,101.69 L539.50,101.52 L539.00,101.60 Z" fill="#dcc6e3" stroke="none" clip-path="url(#cB2)"/><path d="M539.00,98.47 L539.50,96.82 L540.00,96.34 L540.50,94.00 L541.00,94.19 L541.50,92.80 L542.00,92.00 L542.50,91.17 L543.00,89.69 L543.50,88.10 L544.00,86.28 L544.50,87.45 L545.00,84.89 L545.50,84.27 L546.00,78.37 L546.50,82.23 L547.00,81.47 L547.50,76.71 L548.00,79.57 L548.50,76.44 L549.00,73.21 L549.50,73.24 L550.00,70.41 L550.50,73.11 L551.00,74.84 L551.50,71.54 L552.00,73.90 L552.50,71.86 L553.00,72.70 L553.50,68.54 L554.00,71.42 L554.50,73.99 L555.00,74.12 L555.50,72.35 L556.00,73.61 L556.50,75.85 L557.00,73.61 L557.50,73.46 L558.00,74.78 L558.50,73.89 L559.00,69.69 L559.50,69.88 L560.00,71.36 L560.50,71.14 L561.00,71.10 L561.50,76.06 L562.00,71.88 L562.50,73.14 L563.00,76.56 L563.50,75.43 L564.00,77.91 L564.50,77.62 L565.00,79.62 L565.50,80.69 L566.00,79.84 L566.50,81.40 L567.00,83.60 L567.50,84.92 L568.00,83.59 L568.50,84.25 L569.00,84.10 L569.50,85.78 L570.00,87.03 L570.50,88.14 L571.00,82.05 L571.50,88.14 L572.00,89.76 L572.50,88.51 L573.00,90.20 L573.50,85.30 L574.00,88.45 L574.50,89.83 L575.00,88.66 L575.50,89.05 L576.00,91.79 L576.50,93.20 L577.00,92.47 L577.50,92.24 L578.00,91.99 L578.50,93.67 L579.00,94.46 L579.50,93.95 L580.00,95.13 L580.50,95.69 L581.00,94.85 L581.50,95.00 L582.00,96.29 L582.50,94.82 L583.00,95.62 L583.50,96.58 L584.00,96.71 L584.50,96.87 L585.00,97.27 L585.50,96.45 L586.00,96.83 L586.50,97.43 L587.00,97.81 L587.50,97.27 L588.00,98.21 L588.50,97.08 L589.00,97.77 L589.50,97.70 L590.00,97.35 L590.50,98.37 L591.00,98.73 L591.50,98.50 L592.00,98.68 L592.50,98.69 L593.00,98.37 L593.50,98.81 L594.00,98.23 L594.50,98.18 L595.00,98.74 L595.50,98.31 L596.00,97.29 L596.50,96.97 L597.00,96.35 L597.50,95.98 L598.00,94.97 L598.50,96.09 L599.00,96.97 L599.50,97.04 L600.00,97.61 L600.50,98.08 L601.00,98.81 L601.50,98.57 L602.00,99.19 L602.50,99.35 L603.00,99.32 L603.50,99.34 L604.00,99.54 L604.50,99.65 L605.00,99.53 L605.50,99.67 L606.00,99.96 L606.50,99.89 L607.00,99.95 L607.50,99.73 L608.00,100.01 L608.50,100.03 L609.00,99.72 L609.50,100.03 L610.00,100.09 L610.50,100.07 L611.00,99.74 L611.50,100.29 L612.00,100.30 L612.50,100.02 L613.00,100.24 L613.50,100.07 L614.00,100.13 L614.50,100.06 L615.00,99.91 L615.50,100.21 L616.00,100.20 L616.50,100.34 L617.00,99.78 L617.50,100.55 L618.00,100.32 L618.50,100.22 L619.00,100.61 L619.50,100.26 L620.00,100.56 L620.50,100.08 L621.00,100.57 L621.50,100.12 L622.00,100.57 L622.50,100.42 L623.00,100.45 L623.50,100.61 L624.00,100.72 L624.50,100.34 L625.00,100.65 L625.50,100.72 L626.00,100.55 L626.50,100.65 L627.00,100.10 L627.50,100.51 L628.00,100.66 L628.50,100.36 L629.00,100.69 L629.50,100.61 L630.00,100.67 L630.50,100.72 L631.00,100.64 L631.50,100.69 L632.00,100.60 L632.50,100.70 L633.00,100.61 L633.50,100.37 L634.00,100.56 L634.50,100.67 L635.00,100.41 L635.50,100.54 L636.00,100.65 L636.50,100.73 L637.00,100.59 L637.50,100.59 L638.00,100.77 L638.50,100.69 L639.00,100.42 L639.50,100.54 L640.00,100.57 L640.50,100.85 L641.00,100.69 L641.50,100.87 L642.00,100.72 L642.50,100.87 L643.00,100.78 L643.50,100.66 L644.00,100.35 L644.50,100.83 L645.00,100.73 L645.50,100.94 L646.00,100.81 L646.50,100.69 L647.00,100.74 L647.50,100.29 L648.00,100.77 L648.50,100.87 L649.00,100.75 L649.50,100.82 L650.00,100.87 L650.50,100.43 L651.00,100.95 L651.50,100.83 L652.00,100.89 L652.50,100.87 L653.00,101.01 L653.50,100.95 L654.00,100.90 L654.50,100.81 L655.00,100.84 L655.50,100.85 L656.00,101.03 L656.50,100.75 L657.00,101.02 L657.50,100.79 L658.00,100.94 L658.50,100.95 L659.00,100.77 L659.50,101.05 L660.00,100.78 L660.50,100.98 L661.00,100.96 L661.50,101.08 L662.00,100.93 L662.50,101.07 L663.00,100.93 L663.50,100.96 L664.00,101.07 L664.50,100.98 L665.00,101.01 L665.50,101.02 L666.00,101.11 L666.50,101.11 L667.00,101.05 L667.50,101.06 L668.00,101.15 L668.50,101.08 L669.00,101.14 L669.50,101.04 L670.00,101.12 L670.50,101.06 L671.00,101.06 L671.50,101.12 L672.00,101.06 L672.50,101.07" fill="none" stroke="#7a2690" stroke-width="0.90" stroke-linejoin="round" clip-path="url(#cB2)"/><path d="M539.00,101.60 L539.50,101.52 L540.00,101.69 L540.50,101.23 L541.00,101.64 L541.50,101.40 L542.00,101.95 L542.50,102.14 L543.00,100.81 L543.50,100.70 L544.00,101.46 L544.50,101.86 L545.00,100.55 L545.50,101.77 L546.00,100.65 L546.50,100.84 L547.00,100.01 L547.50,99.31 L548.00,100.02 L548.50,102.01 L549.00,100.13 L549.50,100.36 L550.00,99.42 L550.50,98.56 L551.00,99.29 L551.50,98.96 L552.00,101.19 L552.50,100.96 L553.00,99.69 L553.50,100.08 L554.00,99.98 L554.50,100.53 L555.00,99.32 L555.50,97.56 L556.00,100.30 L556.50,96.12 L557.00,96.96 L557.50,96.39 L558.00,95.29 L558.50,96.17 L559.00,95.76 L559.50,95.54 L560.00,95.45 L560.50,94.29 L561.00,95.65 L561.50,94.93 L562.00,96.94 L562.50,95.24 L563.00,96.07 L563.50,95.41 L564.00,96.34 L564.50,95.73 L565.00,95.73 L565.50,96.47 L566.00,96.92 L566.50,97.17 L567.00,97.50 L567.50,96.99 L568.00,97.15 L568.50,98.63 L569.00,98.70 L569.50,97.92 L570.00,98.22 L570.50,98.26 L571.00,100.39 L571.50,99.82 L572.00,99.47 L572.50,99.68 L573.00,99.43 L573.50,99.59 L574.00,100.05 L574.50,100.02 L575.00,99.85 L575.50,100.41 L576.00,100.93 L576.50,100.00 L577.00,100.29 L577.50,100.24 L578.00,100.29 L578.50,100.87 L579.00,100.70 L579.50,101.20 L580.00,101.12 L580.50,101.21 L581.00,101.02 L581.50,101.58 L582.00,102.06 L582.50,101.61 L583.00,101.17 L583.50,101.34 L584.00,101.36 L584.50,101.76 L585.00,101.24 L585.50,101.67 L586.00,101.76 L586.50,101.41 L587.00,101.70 L587.50,101.40 L588.00,102.02 L588.50,101.55 L589.00,101.38 L589.50,101.42 L590.00,101.86 L590.50,101.64 L591.00,101.53 L591.50,101.56 L592.00,101.62 L592.50,101.91 L593.00,101.99 L593.50,102.35 L594.00,101.88 L594.50,101.89 L595.00,101.94 L595.50,102.15 L596.00,102.00 L596.50,102.52 L597.00,102.86 L597.50,103.10 L598.00,103.49 L598.50,103.24 L599.00,102.94 L599.50,102.74 L600.00,102.61 L600.50,102.36 L601.00,102.06 L601.50,102.03 L602.00,101.89 L602.50,101.81 L603.00,101.79 L603.50,101.85 L604.00,101.75 L604.50,101.56 L605.00,101.42 L605.50,101.50 L606.00,101.58 L606.50,101.45 L607.00,101.54 L607.50,101.54 L608.00,101.43 L608.50,101.46 L609.00,101.49 L609.50,101.50 L610.00,101.51 L610.50,101.60 L611.00,101.55 L611.50,101.42 L612.00,101.53 L612.50,101.51 L613.00,101.63 L613.50,101.53 L614.00,101.47 L614.50,101.52 L615.00,101.45 L615.50,101.53 L616.00,101.51 L616.50,101.52 L617.00,101.51 L617.50,101.60 L618.00,101.51 L618.50,101.49 L619.00,101.47 L619.50,101.49 L620.00,101.54 L620.50,101.47 L621.00,101.50 L621.50,101.51 L622.00,101.53 L622.50,101.49 L623.00,101.65 L623.50,101.56 L624.00,101.60 L624.50,101.46 L625.00,101.57 L625.50,101.75 L626.00,101.57 L626.50,101.52 L627.00,101.69 L627.50,101.68 L628.00,101.64 L628.50,101.58 L629.00,101.61 L629.50,101.70 L630.00,101.56 L630.50,101.64 L631.00,101.56 L631.50,101.54 L632.00,101.52 L632.50,101.63 L633.00,101.65 L633.50,101.60 L634.00,101.61 L634.50,101.59 L635.00,101.66 L635.50,101.64 L636.00,101.68 L636.50,101.68 L637.00,101.61 L637.50,101.52 L638.00,101.69 L638.50,101.58 L639.00,101.61 L639.50,101.64 L640.00,101.59 L640.50,101.70 L641.00,101.60 L641.50,101.62 L642.00,101.97 L642.50,101.62 L643.00,101.60 L643.50,101.52 L644.00,101.75 L644.50,101.65 L645.00,101.63 L645.50,101.74 L646.00,101.56 L646.50,101.62 L647.00,101.73 L647.50,101.76 L648.00,101.70 L648.50,101.48 L649.00,101.49 L649.50,101.86 L650.00,101.81 L650.50,101.61 L651.00,101.67 L651.50,101.72 L652.00,101.62 L652.50,101.66 L653.00,101.65 L653.50,101.65 L654.00,101.75 L654.50,101.58 L655.00,101.71 L655.50,101.59 L656.00,101.63 L656.50,101.67 L657.00,101.67 L657.50,101.68 L658.00,101.80 L658.50,101.70 L659.00,101.65 L659.50,101.79 L660.00,101.78 L660.50,101.61 L661.00,101.63 L661.50,101.78 L662.00,101.66 L662.50,101.69 L663.00,101.63 L663.50,101.71 L664.00,101.70 L664.50,101.73 L665.00,101.68 L665.50,101.70 L666.00,101.73 L666.50,101.71 L667.00,101.73 L667.50,101.66 L668.00,101.75 L668.50,101.78 L669.00,101.75 L669.50,101.64 L670.00,101.72 L670.50,101.66 L671.00,101.66 L671.50,101.72 L672.00,101.66 L672.50,101.67" fill="none" stroke="#7a2690" stroke-width="0.90" stroke-linejoin="round" clip-path="url(#cB2)"/><path d="M539.00,99.53 L539.50,98.22 L540.00,98.77 L540.50,96.36 L541.00,96.96 L541.50,93.37 L542.00,94.23 L542.50,94.19 L543.00,91.80 L543.50,91.65 L544.00,88.87 L544.50,90.75 L545.00,88.36 L545.50,88.70 L546.00,84.35 L546.50,85.00 L547.00,86.04 L547.50,83.69 L548.00,82.26 L548.50,83.60 L549.00,86.01 L549.50,80.49 L550.00,81.43 L550.50,82.55 L551.00,79.58 L551.50,84.20 L552.00,89.67 L552.50,75.82 L553.00,86.64 L553.50,74.27 L554.00,83.92 L554.50,75.04 L555.00,84.06 L555.50,80.29 L556.00,76.85 L556.50,79.33 L557.00,76.75 L557.50,77.09 L558.00,80.68 L558.50,79.12 L559.00,70.01 L559.50,76.92 L560.00,80.01 L560.50,78.55 L561.00,83.39 L561.50,77.40 L562.00,79.88 L562.50,80.76 L563.00,84.19 L563.50,78.23 L564.00,80.43 L564.50,82.76 L565.00,85.49 L565.50,82.54 L566.00,86.17 L566.50,85.80 L567.00,88.18 L567.50,84.92 L568.00,88.76 L568.50,86.87 L569.00,87.56 L569.50,90.19 L570.00,92.36 L570.50,90.43 L571.00,87.08 L571.50,92.97 L572.00,90.86 L572.50,91.22 L573.00,91.70 L573.50,87.98 L574.00,92.06 L574.50,94.91 L575.00,92.28 L575.50,93.07 L576.00,93.87 L576.50,95.62 L577.00,94.72 L577.50,93.72 L578.00,94.30 L578.50,96.66 L579.00,95.95 L579.50,96.73 L580.00,96.62 L580.50,98.18 L581.00,96.83 L581.50,97.17 L582.00,97.39 L582.50,97.39 L583.00,96.86 L583.50,96.88 L584.00,98.16 L584.50,97.08 L585.00,99.06 L585.50,98.20 L586.00,98.18 L586.50,98.98 L587.00,97.81 L587.50,99.29 L588.00,98.66 L588.50,98.69 L589.00,100.13 L589.50,98.14 L590.00,98.56 L590.50,99.37 L591.00,99.64 L591.50,98.88 L592.00,99.16 L592.50,100.01 L593.00,99.11 L593.50,99.78 L594.00,98.73 L594.50,98.86 L595.00,98.85 L595.50,99.46 L596.00,99.36 L596.50,98.62 L597.00,98.02 L597.50,98.26 L598.00,98.03 L598.50,98.02 L599.00,99.01 L599.50,99.95 L600.00,100.38 L600.50,99.04 L601.00,99.22 L601.50,100.31 L602.00,100.23 L602.50,100.45 L603.00,100.21 L603.50,100.01 L604.00,100.42 L604.50,100.52 L605.00,100.47 L605.50,99.90 L606.00,100.53 L606.50,100.39 L607.00,100.39 L607.50,100.38 L608.00,100.41 L608.50,100.94 L609.00,100.36 L609.50,100.61 L610.00,100.42 L610.50,100.50 L611.00,100.29 L611.50,100.74 L612.00,100.76 L612.50,100.63 L613.00,100.52 L613.50,100.53 L614.00,100.54 L614.50,100.32 L615.00,100.54 L615.50,100.65 L616.00,100.67 L616.50,100.79 L617.00,100.11 L617.50,101.09 L618.00,100.76 L618.50,100.54 L619.00,100.91 L619.50,100.78 L620.00,100.78 L620.50,100.44 L621.00,100.91 L621.50,100.18 L622.00,100.71 L622.50,100.81 L623.00,100.95 L623.50,100.80 L624.00,101.07 L624.50,101.01 L625.00,100.91 L625.50,101.04 L626.00,100.88 L626.50,100.76 L627.00,100.79 L627.50,100.93 L628.00,100.97 L628.50,100.99 L629.00,100.98 L629.50,100.99 L630.00,100.97 L630.50,101.19 L631.00,100.76 L631.50,100.94 L632.00,100.81 L632.50,101.00 L633.00,101.05 L633.50,100.80 L634.00,100.99 L634.50,100.97 L635.00,100.73 L635.50,100.81 L636.00,100.81 L636.50,101.05 L637.00,100.87 L637.50,100.97 L638.00,101.15 L638.50,100.86 L639.00,100.66 L639.50,100.98 L640.00,100.78 L640.50,101.12 L641.00,101.03 L641.50,101.04 L642.00,101.41 L642.50,101.01 L643.00,101.06 L643.50,100.86 L644.00,100.36 L644.50,101.05 L645.00,100.98 L645.50,101.22 L646.00,101.00 L646.50,100.89 L647.00,100.99 L647.50,100.77 L648.00,101.14 L648.50,100.99 L649.00,101.06 L649.50,101.26 L650.00,101.08 L650.50,100.98 L651.00,100.95 L651.50,101.10 L652.00,101.00 L652.50,101.08 L653.00,101.25 L653.50,101.13 L654.00,101.13 L654.50,101.14 L655.00,101.01 L655.50,100.97 L656.00,101.23 L656.50,101.10 L657.00,101.07 L657.50,101.07 L658.00,101.27 L658.50,101.14 L659.00,100.99 L659.50,101.26 L660.00,101.12 L660.50,101.08 L661.00,101.20 L661.50,101.13 L662.00,101.12 L662.50,101.37 L663.00,101.02 L663.50,101.16 L664.00,101.07 L664.50,101.11 L665.00,101.09 L665.50,101.20 L666.00,101.21 L666.50,101.38 L667.00,101.15 L667.50,101.19 L668.00,101.30 L668.50,101.31 L669.00,101.34 L669.50,101.06 L670.00,101.42 L670.50,101.18 L671.00,101.14 L671.50,101.14 L672.00,101.17 L672.50,101.08" fill="none" stroke="#7a2690" stroke-width="0.6" stroke-opacity="0.8" clip-path="url(#cB2)"/><path d="M539.00,100.84 L539.50,100.34 L540.00,100.96 L540.50,99.80 L541.00,100.17 L541.50,101.40 L542.00,101.59 L542.50,100.52 L543.00,97.46 L543.50,100.70 L544.00,95.82 L544.50,96.52 L545.00,100.55 L545.50,97.08 L546.00,100.65 L546.50,98.77 L547.00,100.01 L547.50,99.31 L548.00,98.09 L548.50,95.43 L549.00,98.67 L549.50,100.36 L550.00,95.95 L550.50,85.78 L551.00,94.28 L551.50,93.70 L552.00,96.22 L552.50,94.19 L553.00,98.20 L553.50,89.50 L554.00,96.11 L554.50,89.10 L555.00,87.86 L555.50,90.66 L556.00,93.24 L556.50,90.30 L557.00,90.56 L557.50,93.88 L558.00,92.45 L558.50,92.06 L559.00,92.85 L559.50,89.85 L560.00,89.03 L560.50,87.07 L561.00,90.65 L561.50,89.38 L562.00,91.94 L562.50,94.75 L563.00,94.49 L563.50,95.41 L564.00,91.40 L564.50,88.30 L565.00,92.04 L565.50,96.47 L566.00,96.24 L566.50,93.64 L567.00,96.80 L567.50,94.49 L568.00,97.15 L568.50,95.62 L569.00,95.71 L569.50,96.74 L570.00,94.68 L570.50,95.61 L571.00,100.39 L571.50,98.15 L572.00,95.95 L572.50,97.23 L573.00,97.30 L573.50,96.22 L574.00,98.73 L574.50,99.53 L575.00,98.16 L575.50,99.83 L576.00,99.25 L576.50,98.54 L577.00,98.14 L577.50,99.89 L578.00,100.11 L578.50,98.97 L579.00,98.79 L579.50,100.11 L580.00,100.03 L580.50,100.62 L581.00,100.37 L581.50,100.16 L582.00,99.79 L582.50,100.94 L583.00,100.12 L583.50,99.62 L584.00,99.71 L584.50,99.40 L585.00,100.82 L585.50,100.29 L586.00,98.91 L586.50,100.41 L587.00,100.37 L587.50,100.74 L588.00,101.06 L588.50,100.60 L589.00,101.32 L589.50,101.37 L590.00,101.14 L590.50,101.64 L591.00,101.00 L591.50,100.87 L592.00,101.16 L592.50,100.65 L593.00,101.23 L593.50,101.03 L594.00,101.14 L594.50,101.39 L595.00,100.37 L595.50,101.63 L596.00,101.43 L596.50,101.46 L597.00,102.37 L597.50,102.26 L598.00,101.86 L598.50,101.33 L599.00,102.41 L599.50,102.26 L600.00,100.89 L600.50,101.30 L601.00,101.04 L601.50,101.76 L602.00,101.21 L602.50,101.07 L603.00,101.79 L603.50,101.59 L604.00,101.43 L604.50,101.37 L605.00,101.20 L605.50,101.15 L606.00,101.39 L606.50,101.40 L607.00,101.24 L607.50,101.32 L608.00,101.43 L608.50,101.23 L609.00,100.92 L609.50,101.39 L610.00,101.04 L610.50,101.60 L611.00,101.47 L611.50,101.36 L612.00,101.36 L612.50,101.51 L613.00,101.32 L613.50,101.38 L614.00,100.99 L614.50,101.52 L615.00,101.30 L615.50,101.53 L616.00,101.33 L616.50,101.24 L617.00,101.04 L617.50,101.57 L618.00,101.15 L618.50,101.36 L619.00,101.25 L619.50,101.24 L620.00,101.34 L620.50,101.47 L621.00,101.22 L621.50,101.43 L622.00,101.49 L622.50,101.26 L623.00,101.30 L623.50,101.56 L624.00,101.60 L624.50,101.29 L625.00,101.26 L625.50,101.72 L626.00,101.43 L626.50,101.26 L627.00,101.48 L627.50,101.21 L628.00,101.32 L628.50,101.26 L629.00,101.33 L629.50,101.64 L630.00,101.45 L630.50,101.64 L631.00,101.13 L631.50,101.34 L632.00,101.29 L632.50,101.63 L633.00,101.64 L633.50,101.48 L634.00,101.49 L634.50,101.37 L635.00,101.45 L635.50,101.44 L636.00,101.23 L636.50,101.68 L637.00,101.57 L637.50,101.52 L638.00,101.69 L638.50,101.50 L639.00,101.59 L639.50,101.28 L640.00,101.32 L640.50,101.65 L641.00,101.42 L641.50,101.34 L642.00,101.83 L642.50,101.37 L643.00,101.46 L643.50,101.52 L644.00,101.42 L644.50,101.47 L645.00,101.55 L645.50,101.60 L646.00,101.44 L646.50,101.39 L647.00,101.55 L647.50,101.20 L648.00,101.54 L648.50,101.43 L649.00,101.25 L649.50,101.70 L650.00,101.75 L650.50,101.61 L651.00,101.64 L651.50,101.48 L652.00,101.45 L652.50,101.66 L653.00,101.48 L653.50,101.54 L654.00,101.53 L654.50,101.38 L655.00,101.26 L655.50,101.41 L656.00,101.33 L656.50,101.42 L657.00,101.45 L657.50,101.68 L658.00,101.75 L658.50,101.60 L659.00,101.46 L659.50,101.53 L660.00,101.70 L660.50,101.41 L661.00,101.48 L661.50,101.72 L662.00,101.50 L662.50,101.55 L663.00,101.40 L663.50,101.66 L664.00,101.60 L664.50,101.66 L665.00,101.67 L665.50,101.43 L666.00,101.59 L666.50,101.62 L667.00,101.62 L667.50,101.54 L668.00,101.65 L668.50,101.51 L669.00,101.60 L669.50,101.59 L670.00,101.58 L670.50,101.51 L671.00,101.59 L671.50,101.46 L672.00,101.55 L672.50,101.65" fill="none" stroke="#7a2690" stroke-width="0.6" stroke-opacity="0.8" clip-path="url(#cB2)"/><path d="M542.50,67.00 L542.50,116.00" stroke="#7a2690" stroke-width="0.80" clip-path="url(#cB2)"/><path d="M553.50,60.50 L553.50,110.50" stroke="#7a2690" stroke-width="0.80" clip-path="url(#cB2)"/><path d="M560.50,30.50 L560.50,122.50" stroke="#7a2690" stroke-width="0.90" clip-path="url(#cB2)"/><path d="M555.50,68.50 L555.50,105.50" stroke="#7a2690" stroke-width="0.60" clip-path="url(#cB2)"/><path d="M558.00,70.50 L558.00,101.50" stroke="#7a2690" stroke-width="0.60" clip-path="url(#cB2)"/><path d="M565.50,72.50 L565.50,99.50" stroke="#7a2690" stroke-width="0.60" clip-path="url(#cB2)"/><path d="M562.50,67.50 L562.50,98.50" stroke="#7a2690" stroke-width="0.50" clip-path="url(#cB2)"/><path d="M549.50,73.50 L549.50,103.50" stroke="#7a2690" stroke-width="0.50" clip-path="url(#cB2)"/><path d="M649.00,99.50 L649.00,102.00" stroke="#7a2690" stroke-width="0.50" clip-path="url(#cB2)"/><path d="M615.00,99.50 L615.00,101.50" stroke="#7a2690" stroke-width="0.50" clip-path="url(#cB2)"/><path d="M539.00,99.75 L539.50,99.64 L540.00,99.58 L540.50,99.55 L541.00,98.21 L541.50,97.23 L542.00,98.01 L542.50,98.04 L543.00,96.26 L543.50,96.35 L544.00,95.77 L544.50,95.39 L545.00,95.37 L545.50,94.11 L546.00,93.37 L546.50,93.34 L547.00,93.61 L547.50,92.00 L548.00,92.49 L548.50,91.63 L549.00,92.57 L549.50,90.95 L550.00,90.57 L550.50,89.79 L551.00,90.58 L551.50,89.91 L552.00,90.51 L552.50,88.60 L553.00,88.09 L553.50,87.19 L554.00,87.96 L554.50,89.17 L555.00,88.46 L555.50,89.00 L556.00,89.94 L556.50,88.01 L557.00,87.09 L557.50,87.03 L558.00,85.76 L558.50,86.54 L559.00,87.88 L559.50,87.62 L560.00,87.51 L560.50,87.01 L561.00,87.22 L561.50,88.29 L562.00,87.98 L562.50,89.85 L563.00,89.69 L563.50,88.79 L564.00,89.93 L564.50,89.83 L565.00,92.29 L565.50,92.44 L566.00,92.20 L566.50,91.17 L567.00,91.02 L567.50,92.75 L568.00,93.22 L568.50,93.48 L569.00,93.64 L569.50,93.02 L570.00,93.78 L570.50,92.80 L571.00,93.72 L571.50,94.75 L572.00,94.52 L572.50,94.98 L573.00,94.77 L573.50,94.98 L574.00,95.84 L574.50,95.54 L575.00,95.95 L575.50,96.43 L576.00,96.47 L576.50,96.50 L577.00,97.08 L577.50,97.40 L578.00,96.89 L578.50,97.53 L579.00,97.91 L579.50,97.77 L580.00,98.53 L580.50,98.22 L581.00,98.77 L581.50,98.64 L582.00,99.16 L582.50,99.00 L583.00,98.69 L583.50,99.13 L584.00,99.54 L584.50,98.90 L585.00,99.66 L585.50,99.21 L586.00,99.81 L586.50,100.13 L587.00,99.41 L587.50,100.05 L588.00,99.86 L588.50,99.85 L589.00,100.52 L589.50,100.29 L590.00,100.53 L590.50,100.29 L591.00,100.44 L591.50,100.72 L592.00,100.47 L592.50,100.34 L593.00,100.58 L593.50,100.43 L594.00,100.66 L594.50,100.59 L595.00,100.53 L595.50,100.59 L596.00,100.41 L596.50,100.50 L597.00,100.54 L597.50,100.58 L598.00,100.69 L598.50,100.92 L599.00,100.60 L599.50,100.52 L600.00,100.77 L600.50,100.85 L601.00,100.82 L601.50,100.65 L602.00,100.80 L602.50,100.99 L603.00,100.88 L603.50,100.98 L604.00,100.91 L604.50,101.01 L605.00,101.02 L605.50,100.70 L606.00,100.77 L606.50,101.15 L607.00,101.07 L607.50,101.01 L608.00,101.01 L608.50,101.16 L609.00,100.86 L609.50,101.20 L610.00,100.91 L610.50,100.92 L611.00,101.07 L611.50,101.11 L612.00,101.03 L612.50,101.03 L613.00,101.33 L613.50,101.23 L614.00,101.01 L614.50,101.10 L615.00,101.15 L615.50,101.23 L616.00,101.21 L616.50,101.22 L617.00,100.79 L617.50,101.30 L618.00,100.97 L618.50,101.11 L619.00,101.15 L619.50,101.17 L620.00,101.24 L620.50,101.01 L621.00,101.15 L621.50,101.21 L622.00,101.23 L622.50,101.19 L623.00,101.35 L623.50,101.26 L624.00,101.30 L624.50,101.16 L625.00,101.17 L625.50,101.45 L626.00,101.27 L626.50,101.14 L627.00,101.39 L627.50,101.38 L628.00,101.15 L628.50,101.28 L629.00,101.31 L629.50,101.40 L630.00,101.26 L630.50,101.34 L631.00,101.26 L631.50,101.24 L632.00,101.22 L632.50,101.33 L633.00,101.35 L633.50,101.30 L634.00,101.31 L634.50,101.29 L635.00,101.36 L635.50,101.34 L636.00,101.38 L636.50,101.38 L637.00,101.31 L637.50,101.22 L638.00,101.39 L638.50,101.28 L639.00,101.31 L639.50,101.34 L640.00,101.29 L640.50,101.40 L641.00,101.30 L641.50,101.32 L642.00,101.67 L642.50,101.32 L643.00,101.30 L643.50,101.18 L644.00,101.45 L644.50,101.35 L645.00,101.33 L645.50,101.44 L646.00,101.26 L646.50,101.32 L647.00,101.43 L647.50,101.46 L648.00,101.40 L648.50,101.17 L649.00,101.19 L649.50,101.56 L650.00,101.51 L650.50,101.31 L651.00,101.37 L651.50,101.42 L652.00,101.32 L652.50,101.36 L653.00,101.35 L653.50,101.35 L654.00,101.45 L654.50,101.28 L655.00,101.41 L655.50,101.29 L656.00,101.33 L656.50,101.37 L657.00,101.37 L657.50,101.38 L658.00,101.50 L658.50,101.40 L659.00,101.35 L659.50,101.49 L660.00,101.48 L660.50,101.31 L661.00,101.33 L661.50,101.48 L662.00,101.36 L662.50,101.39 L663.00,101.33 L663.50,101.41 L664.00,101.40 L664.50,101.43 L665.00,101.38 L665.50,101.40 L666.00,101.43 L666.50,101.41 L667.00,101.43 L667.50,101.36 L668.00,101.45 L668.50,101.48 L669.00,101.45 L669.50,101.34 L670.00,101.42 L670.50,101.36 L671.00,101.36 L671.50,101.42 L672.00,101.36 L672.50,101.37" fill="none" stroke="#000" stroke-width="1.30" stroke-linejoin="round" clip-path="url(#cB2)"/>
<path d="M388.00,200.98 L388.50,200.82 L389.00,200.89 L389.50,200.79 L390.00,200.66 L390.50,200.30 L391.00,200.48 L391.50,199.58 L392.00,199.90 L392.50,199.01 L393.00,199.78 L393.50,199.29 L394.00,199.02 L394.50,198.60 L395.00,197.86 L395.50,197.83 L396.00,198.89 L396.50,197.22 L397.00,197.91 L397.50,197.57 L398.00,196.44 L398.50,197.40 L399.00,195.67 L399.50,196.12 L400.00,194.66 L400.50,196.37 L401.00,194.30 L401.50,192.66 L402.00,193.78 L402.50,192.82 L403.00,192.52 L403.50,191.16 L404.00,189.63 L404.50,187.49 L405.00,187.54 L405.50,187.86 L406.00,188.20 L406.50,188.42 L407.00,190.51 L407.50,190.77 L408.00,190.86 L408.50,191.41 L409.00,194.18 L409.50,193.53 L410.00,194.56 L410.50,194.46 L411.00,194.95 L411.50,194.77 L412.00,194.47 L412.50,194.84 L413.00,194.97 L413.50,195.82 L414.00,196.11 L414.50,197.47 L415.00,198.06 L415.50,197.20 L416.00,198.74 L416.50,198.99 L417.00,199.31 L417.50,199.36 L418.00,199.31 L418.50,199.91 L419.00,199.53 L419.50,199.48 L420.00,199.94 L420.50,200.14 L421.00,200.12 L421.50,200.26 L422.00,200.48 L422.50,200.23 L423.00,200.58 L423.50,200.57 L424.00,200.65 L424.50,200.13 L425.00,200.77 L425.50,200.56 L426.00,200.91 L426.50,200.93 L427.00,200.89 L427.50,200.99 L428.00,201.06 L428.50,200.85 L429.00,200.92 L429.50,200.73 L430.00,201.17 L430.50,201.26 L431.00,201.11 L431.50,201.31 L432.00,201.27 L432.50,201.14 L433.00,201.05 L433.50,201.31 L434.00,201.32 L434.50,201.37 L435.00,201.42 L435.50,201.42 L436.00,201.42 L436.50,201.43 L437.00,201.45 L437.50,201.41 L438.00,201.36 L438.50,201.49 L439.00,201.24 L439.50,201.32 L440.00,201.47 L440.50,201.47 L441.00,201.41 L441.50,201.30 L442.00,201.40 L442.50,201.42 L443.00,201.27 L443.50,201.42 L444.00,201.39 L444.50,201.18 L445.00,201.51 L445.50,201.33 L446.00,201.49 L446.50,201.48 L447.00,201.46 L447.50,201.54 L448.00,201.62 L448.50,201.45 L449.00,201.48 L449.50,201.49 L450.00,201.57 L450.50,201.56 L451.00,201.50 L451.50,201.49 L452.00,201.42 L452.50,201.57 L453.00,201.52 L453.50,201.49 L454.00,201.42 L454.50,201.55 L455.00,201.43 L455.50,201.50 L456.00,201.51 L456.50,201.54 L457.00,201.56 L457.50,201.57 L458.00,201.48 L458.50,201.51 L459.00,201.60 L459.50,201.46 L460.00,201.57 L460.50,201.56 L461.00,201.57 L461.50,201.58 L462.00,201.53 L462.50,201.59 L463.00,201.56 L463.50,201.57 L464.00,201.49 L464.50,201.52 L465.00,201.55 L465.50,201.54 L466.00,201.54 L466.50,201.56 L467.00,201.67 L467.50,201.55 L468.00,201.58 L468.50,201.54 L469.00,201.56 L469.50,201.60 L470.00,201.61 L470.50,201.62 L471.00,201.57 L471.50,201.58 L472.00,201.62 L472.50,201.60 L473.00,201.57 L473.50,201.59 L474.00,201.59 L474.50,201.61 L475.00,201.69 L475.50,201.59 L476.00,201.59 L476.50,201.56 L477.00,201.54 L477.50,201.62 L478.00,201.57 L478.50,201.59 L479.00,201.59 L479.50,201.54 L480.00,201.57 L480.50,201.63 L481.00,201.55 L481.50,201.61 L482.00,201.63 L482.50,201.63 L483.00,201.62 L483.50,201.63 L484.00,201.57 L484.50,201.60 L485.00,201.65 L485.50,201.58 L486.00,201.61 L486.50,201.61 L487.00,201.58 L487.50,201.62 L488.00,201.63 L488.50,201.60 L489.00,201.69 L489.50,201.67 L490.00,201.61 L490.50,201.59 L491.00,201.69 L491.50,201.63 L492.00,201.65 L492.50,201.64 L493.00,201.61 L493.50,201.58 L494.00,201.57 L494.50,201.60 L495.00,201.62 L495.50,201.63 L496.00,201.71 L496.50,201.63 L497.00,201.68 L497.50,201.68 L498.00,201.64 L498.50,201.70 L499.00,201.59 L499.50,201.63 L500.00,201.64 L500.50,201.64 L501.00,201.64 L501.50,201.65 L502.00,201.63 L502.50,201.68 L503.00,201.65 L503.50,201.65 L504.00,201.63 L504.50,201.70 L505.00,201.65 L505.50,201.67 L506.00,201.64 L506.50,201.65 L507.00,201.66 L507.50,201.65 L508.00,201.66 L508.50,201.63 L509.00,201.66 L509.50,201.66 L510.00,201.71 L510.50,201.68 L511.00,201.65 L511.50,201.65 L512.00,201.71 L512.50,201.68 L513.00,201.69 L513.50,201.68 L514.00,201.70 L514.50,201.70 L515.00,201.69 L515.50,201.69 L516.00,201.66 L516.50,201.72 L517.00,201.72 L517.50,201.67 L518.00,201.68 L518.50,201.70 L519.00,201.73 L519.50,201.67 L519.50,202.27 L519.00,202.33 L518.50,202.30 L518.00,202.28 L517.50,202.27 L517.00,202.32 L516.50,202.32 L516.00,202.26 L515.50,202.29 L515.00,202.29 L514.50,202.30 L514.00,202.30 L513.50,202.28 L513.00,202.29 L512.50,202.28 L512.00,202.31 L511.50,202.25 L511.00,202.25 L510.50,202.28 L510.00,202.31 L509.50,202.26 L509.00,202.26 L508.50,202.23 L508.00,202.26 L507.50,202.25 L507.00,202.26 L506.50,202.25 L506.00,202.24 L505.50,202.27 L505.00,202.25 L504.50,202.30 L504.00,202.23 L503.50,202.25 L503.00,202.25 L502.50,202.28 L502.00,202.23 L501.50,202.25 L501.00,202.24 L500.50,202.24 L500.00,202.24 L499.50,202.23 L499.00,202.24 L498.50,202.30 L498.00,202.24 L497.50,202.28 L497.00,202.28 L496.50,202.23 L496.00,202.31 L495.50,202.26 L495.00,202.22 L494.50,202.22 L494.00,202.17 L493.50,202.18 L493.00,202.21 L492.50,202.24 L492.00,202.25 L491.50,202.23 L491.00,202.29 L490.50,202.19 L490.00,202.23 L489.50,202.27 L489.00,202.29 L488.50,202.20 L488.00,202.23 L487.50,202.22 L487.00,202.18 L486.50,202.21 L486.00,202.21 L485.50,202.18 L485.00,202.25 L484.50,202.20 L484.00,202.23 L483.50,202.25 L483.00,202.22 L482.50,202.23 L482.00,202.23 L481.50,202.22 L481.00,202.25 L480.50,202.25 L480.00,202.25 L479.50,202.17 L479.00,202.19 L478.50,202.21 L478.00,202.19 L477.50,202.31 L477.00,202.16 L476.50,202.19 L476.00,202.19 L475.50,202.20 L475.00,202.29 L474.50,202.26 L474.00,202.19 L473.50,202.21 L473.00,202.24 L472.50,202.26 L472.00,202.25 L471.50,202.38 L471.00,202.23 L470.50,202.30 L470.00,202.25 L469.50,202.28 L469.00,202.20 L468.50,202.22 L468.00,202.18 L467.50,202.17 L467.00,202.27 L466.50,202.19 L466.00,202.23 L465.50,202.35 L465.00,202.41 L464.50,202.42 L464.00,202.27 L463.50,202.26 L463.00,202.20 L462.50,202.28 L462.00,202.26 L461.50,202.30 L461.00,202.22 L460.50,202.38 L460.00,202.20 L459.50,202.28 L459.00,202.22 L458.50,202.23 L458.00,202.19 L457.50,202.39 L457.00,202.20 L456.50,202.20 L456.00,202.41 L455.50,202.24 L455.00,202.21 L454.50,202.30 L454.00,202.25 L453.50,202.32 L453.00,202.31 L452.50,202.27 L452.00,202.27 L451.50,202.21 L451.00,202.31 L450.50,202.28 L450.00,202.44 L449.50,202.26 L449.00,202.32 L448.50,202.22 L448.00,202.22 L447.50,202.23 L447.00,202.33 L446.50,202.23 L446.00,202.27 L445.50,202.32 L445.00,202.23 L444.50,202.26 L444.00,202.42 L443.50,202.23 L443.00,202.34 L442.50,202.26 L442.00,202.36 L441.50,202.47 L441.00,202.25 L440.50,202.43 L440.00,202.21 L439.50,202.32 L439.00,202.33 L438.50,202.33 L438.00,202.40 L437.50,202.60 L437.00,202.30 L436.50,202.34 L436.00,202.35 L435.50,202.33 L435.00,202.41 L434.50,202.62 L434.00,202.33 L433.50,202.35 L433.00,202.45 L432.50,202.62 L432.00,202.54 L431.50,202.52 L431.00,202.47 L430.50,202.40 L430.00,202.92 L429.50,202.46 L429.00,202.65 L428.50,202.52 L428.00,202.52 L427.50,202.53 L427.00,202.50 L426.50,202.50 L426.00,202.62 L425.50,202.51 L425.00,202.62 L424.50,202.70 L424.00,202.67 L423.50,202.86 L423.00,202.67 L422.50,202.74 L422.00,202.85 L421.50,202.97 L421.00,203.12 L420.50,202.82 L420.00,203.10 L419.50,203.18 L419.00,203.13 L418.50,203.14 L418.00,203.03 L417.50,203.16 L417.00,203.35 L416.50,203.38 L416.00,203.61 L415.50,203.55 L415.00,203.82 L414.50,203.75 L414.00,203.99 L413.50,204.01 L413.00,204.19 L412.50,205.04 L412.00,204.71 L411.50,205.35 L411.00,205.26 L410.50,205.34 L410.00,206.44 L409.50,205.96 L409.00,206.84 L408.50,206.86 L408.00,207.04 L407.50,207.39 L407.00,208.87 L406.50,208.45 L406.00,207.06 L405.50,208.11 L405.00,208.37 L404.50,206.15 L404.00,206.98 L403.50,205.55 L403.00,205.29 L402.50,204.64 L402.00,204.30 L401.50,204.34 L401.00,204.41 L400.50,204.32 L400.00,204.05 L399.50,203.60 L399.00,203.32 L398.50,203.55 L398.00,203.12 L397.50,203.41 L397.00,203.13 L396.50,202.47 L396.00,202.79 L395.50,202.55 L395.00,202.61 L394.50,202.37 L394.00,202.69 L393.50,202.73 L393.00,202.41 L392.50,202.38 L392.00,202.38 L391.50,202.44 L391.00,202.37 L390.50,202.58 L390.00,202.51 L389.50,202.34 L389.00,202.30 L388.50,202.34 L388.00,202.37 Z" fill="#cfe4f4" stroke="none" clip-path="url(#cB3)"/><path d="M388.00,200.98 L388.50,200.82 L389.00,200.89 L389.50,200.79 L390.00,200.66 L390.50,200.30 L391.00,200.48 L391.50,199.58 L392.00,199.90 L392.50,199.01 L393.00,199.78 L393.50,199.29 L394.00,199.02 L394.50,198.60 L395.00,197.86 L395.50,197.83 L396.00,198.89 L396.50,197.22 L397.00,197.91 L397.50,197.57 L398.00,196.44 L398.50,197.40 L399.00,195.67 L399.50,196.12 L400.00,194.66 L400.50,196.37 L401.00,194.30 L401.50,192.66 L402.00,193.78 L402.50,192.82 L403.00,192.52 L403.50,191.16 L404.00,189.63 L404.50,187.49 L405.00,187.54 L405.50,187.86 L406.00,188.20 L406.50,188.42 L407.00,190.51 L407.50,190.77 L408.00,190.86 L408.50,191.41 L409.00,194.18 L409.50,193.53 L410.00,194.56 L410.50,194.46 L411.00,194.95 L411.50,194.77 L412.00,194.47 L412.50,194.84 L413.00,194.97 L413.50,195.82 L414.00,196.11 L414.50,197.47 L415.00,198.06 L415.50,197.20 L416.00,198.74 L416.50,198.99 L417.00,199.31 L417.50,199.36 L418.00,199.31 L418.50,199.91 L419.00,199.53 L419.50,199.48 L420.00,199.94 L420.50,200.14 L421.00,200.12 L421.50,200.26 L422.00,200.48 L422.50,200.23 L423.00,200.58 L423.50,200.57 L424.00,200.65 L424.50,200.13 L425.00,200.77 L425.50,200.56 L426.00,200.91 L426.50,200.93 L427.00,200.89 L427.50,200.99 L428.00,201.06 L428.50,200.85 L429.00,200.92 L429.50,200.73 L430.00,201.17 L430.50,201.26 L431.00,201.11 L431.50,201.31 L432.00,201.27 L432.50,201.14 L433.00,201.05 L433.50,201.31 L434.00,201.32 L434.50,201.37 L435.00,201.42 L435.50,201.42 L436.00,201.42 L436.50,201.43 L437.00,201.45 L437.50,201.41 L438.00,201.36 L438.50,201.49 L439.00,201.24 L439.50,201.32 L440.00,201.47 L440.50,201.47 L441.00,201.41 L441.50,201.30 L442.00,201.40 L442.50,201.42 L443.00,201.27 L443.50,201.42 L444.00,201.39 L444.50,201.18 L445.00,201.51 L445.50,201.33 L446.00,201.49 L446.50,201.48 L447.00,201.46 L447.50,201.54 L448.00,201.62 L448.50,201.45 L449.00,201.48 L449.50,201.49 L450.00,201.57 L450.50,201.56 L451.00,201.50 L451.50,201.49 L452.00,201.42 L452.50,201.57 L453.00,201.52 L453.50,201.49 L454.00,201.42 L454.50,201.55 L455.00,201.43 L455.50,201.50 L456.00,201.51 L456.50,201.54 L457.00,201.56 L457.50,201.57 L458.00,201.48 L458.50,201.51 L459.00,201.60 L459.50,201.46 L460.00,201.57 L460.50,201.56 L461.00,201.57 L461.50,201.58 L462.00,201.53 L462.50,201.59 L463.00,201.56 L463.50,201.57 L464.00,201.49 L464.50,201.52 L465.00,201.55 L465.50,201.54 L466.00,201.54 L466.50,201.56 L467.00,201.67 L467.50,201.55 L468.00,201.58 L468.50,201.54 L469.00,201.56 L469.50,201.60 L470.00,201.61 L470.50,201.62 L471.00,201.57 L471.50,201.58 L472.00,201.62 L472.50,201.60 L473.00,201.57 L473.50,201.59 L474.00,201.59 L474.50,201.61 L475.00,201.69 L475.50,201.59 L476.00,201.59 L476.50,201.56 L477.00,201.54 L477.50,201.62 L478.00,201.57 L478.50,201.59 L479.00,201.59 L479.50,201.54 L480.00,201.57 L480.50,201.63 L481.00,201.55 L481.50,201.61 L482.00,201.63 L482.50,201.63 L483.00,201.62 L483.50,201.63 L484.00,201.57 L484.50,201.60 L485.00,201.65 L485.50,201.58 L486.00,201.61 L486.50,201.61 L487.00,201.58 L487.50,201.62 L488.00,201.63 L488.50,201.60 L489.00,201.69 L489.50,201.67 L490.00,201.61 L490.50,201.59 L491.00,201.69 L491.50,201.63 L492.00,201.65 L492.50,201.64 L493.00,201.61 L493.50,201.58 L494.00,201.57 L494.50,201.60 L495.00,201.62 L495.50,201.63 L496.00,201.71 L496.50,201.63 L497.00,201.68 L497.50,201.68 L498.00,201.64 L498.50,201.70 L499.00,201.59 L499.50,201.63 L500.00,201.64 L500.50,201.64 L501.00,201.64 L501.50,201.65 L502.00,201.63 L502.50,201.68 L503.00,201.65 L503.50,201.65 L504.00,201.63 L504.50,201.70 L505.00,201.65 L505.50,201.67 L506.00,201.64 L506.50,201.65 L507.00,201.66 L507.50,201.65 L508.00,201.66 L508.50,201.63 L509.00,201.66 L509.50,201.66 L510.00,201.71 L510.50,201.68 L511.00,201.65 L511.50,201.65 L512.00,201.71 L512.50,201.68 L513.00,201.69 L513.50,201.68 L514.00,201.70 L514.50,201.70 L515.00,201.69 L515.50,201.69 L516.00,201.66 L516.50,201.72 L517.00,201.72 L517.50,201.67 L518.00,201.68 L518.50,201.70 L519.00,201.73 L519.50,201.67" fill="none" stroke="#3f98d8" stroke-width="0.90" stroke-linejoin="round" clip-path="url(#cB3)"/><path d="M388.00,202.37 L388.50,202.34 L389.00,202.30 L389.50,202.34 L390.00,202.51 L390.50,202.58 L391.00,202.37 L391.50,202.44 L392.00,202.38 L392.50,202.38 L393.00,202.41 L393.50,202.73 L394.00,202.69 L394.50,202.37 L395.00,202.61 L395.50,202.55 L396.00,202.79 L396.50,202.47 L397.00,203.13 L397.50,203.41 L398.00,203.12 L398.50,203.55 L399.00,203.32 L399.50,203.60 L400.00,204.05 L400.50,204.32 L401.00,204.41 L401.50,204.34 L402.00,204.30 L402.50,204.64 L403.00,205.29 L403.50,205.55 L404.00,206.98 L404.50,206.15 L405.00,208.37 L405.50,208.11 L406.00,207.06 L406.50,208.45 L407.00,208.87 L407.50,207.39 L408.00,207.04 L408.50,206.86 L409.00,206.84 L409.50,205.96 L410.00,206.44 L410.50,205.34 L411.00,205.26 L411.50,205.35 L412.00,204.71 L412.50,205.04 L413.00,204.19 L413.50,204.01 L414.00,203.99 L414.50,203.75 L415.00,203.82 L415.50,203.55 L416.00,203.61 L416.50,203.38 L417.00,203.35 L417.50,203.16 L418.00,203.03 L418.50,203.14 L419.00,203.13 L419.50,203.18 L420.00,203.10 L420.50,202.82 L421.00,203.12 L421.50,202.97 L422.00,202.85 L422.50,202.74 L423.00,202.67 L423.50,202.86 L424.00,202.67 L424.50,202.70 L425.00,202.62 L425.50,202.51 L426.00,202.62 L426.50,202.50 L427.00,202.50 L427.50,202.53 L428.00,202.52 L428.50,202.52 L429.00,202.65 L429.50,202.46 L430.00,202.92 L430.50,202.40 L431.00,202.47 L431.50,202.52 L432.00,202.54 L432.50,202.62 L433.00,202.45 L433.50,202.35 L434.00,202.33 L434.50,202.62 L435.00,202.41 L435.50,202.33 L436.00,202.35 L436.50,202.34 L437.00,202.30 L437.50,202.60 L438.00,202.40 L438.50,202.33 L439.00,202.33 L439.50,202.32 L440.00,202.21 L440.50,202.43 L441.00,202.25 L441.50,202.47 L442.00,202.36 L442.50,202.26 L443.00,202.34 L443.50,202.23 L444.00,202.42 L444.50,202.26 L445.00,202.23 L445.50,202.32 L446.00,202.27 L446.50,202.23 L447.00,202.33 L447.50,202.23 L448.00,202.22 L448.50,202.22 L449.00,202.32 L449.50,202.26 L450.00,202.44 L450.50,202.28 L451.00,202.31 L451.50,202.21 L452.00,202.27 L452.50,202.27 L453.00,202.31 L453.50,202.32 L454.00,202.25 L454.50,202.30 L455.00,202.21 L455.50,202.24 L456.00,202.41 L456.50,202.20 L457.00,202.20 L457.50,202.39 L458.00,202.19 L458.50,202.23 L459.00,202.22 L459.50,202.28 L460.00,202.20 L460.50,202.38 L461.00,202.22 L461.50,202.30 L462.00,202.26 L462.50,202.28 L463.00,202.20 L463.50,202.26 L464.00,202.27 L464.50,202.42 L465.00,202.41 L465.50,202.35 L466.00,202.23 L466.50,202.19 L467.00,202.27 L467.50,202.17 L468.00,202.18 L468.50,202.22 L469.00,202.20 L469.50,202.28 L470.00,202.25 L470.50,202.30 L471.00,202.23 L471.50,202.38 L472.00,202.25 L472.50,202.26 L473.00,202.24 L473.50,202.21 L474.00,202.19 L474.50,202.26 L475.00,202.29 L475.50,202.20 L476.00,202.19 L476.50,202.19 L477.00,202.16 L477.50,202.31 L478.00,202.19 L478.50,202.21 L479.00,202.19 L479.50,202.17 L480.00,202.25 L480.50,202.25 L481.00,202.25 L481.50,202.22 L482.00,202.23 L482.50,202.23 L483.00,202.22 L483.50,202.25 L484.00,202.23 L484.50,202.20 L485.00,202.25 L485.50,202.18 L486.00,202.21 L486.50,202.21 L487.00,202.18 L487.50,202.22 L488.00,202.23 L488.50,202.20 L489.00,202.29 L489.50,202.27 L490.00,202.23 L490.50,202.19 L491.00,202.29 L491.50,202.23 L492.00,202.25 L492.50,202.24 L493.00,202.21 L493.50,202.18 L494.00,202.17 L494.50,202.22 L495.00,202.22 L495.50,202.26 L496.00,202.31 L496.50,202.23 L497.00,202.28 L497.50,202.28 L498.00,202.24 L498.50,202.30 L499.00,202.24 L499.50,202.23 L500.00,202.24 L500.50,202.24 L501.00,202.24 L501.50,202.25 L502.00,202.23 L502.50,202.28 L503.00,202.25 L503.50,202.25 L504.00,202.23 L504.50,202.30 L505.00,202.25 L505.50,202.27 L506.00,202.24 L506.50,202.25 L507.00,202.26 L507.50,202.25 L508.00,202.26 L508.50,202.23 L509.00,202.26 L509.50,202.26 L510.00,202.31 L510.50,202.28 L511.00,202.25 L511.50,202.25 L512.00,202.31 L512.50,202.28 L513.00,202.29 L513.50,202.28 L514.00,202.30 L514.50,202.30 L515.00,202.29 L515.50,202.29 L516.00,202.26 L516.50,202.32 L517.00,202.32 L517.50,202.27 L518.00,202.28 L518.50,202.30 L519.00,202.33 L519.50,202.27" fill="none" stroke="#3f98d8" stroke-width="0.90" stroke-linejoin="round" clip-path="url(#cB3)"/><path d="M406.60,140.00 L406.60,234.00" stroke="#86c3ee" stroke-width="0.90" clip-path="url(#cB3)"/><path d="M404.30,185.00 L404.30,205.00" stroke="#3f98d8" stroke-width="0.50" clip-path="url(#cB3)"/><path d="M413.00,193.00 L413.00,204.00" stroke="#3f98d8" stroke-width="0.50" clip-path="url(#cB3)"/><path d="M401.00,194.00 L401.00,204.00" stroke="#3f98d8" stroke-width="0.50" clip-path="url(#cB3)"/><path d="M403.00,191.00 L403.00,205.00" stroke="#3f98d8" stroke-width="0.50" clip-path="url(#cB3)"/><path d="M388.00,201.81 L388.50,201.80 L389.00,201.68 L389.50,201.70 L390.00,201.68 L390.50,201.56 L391.00,201.68 L391.50,201.42 L392.00,201.56 L392.50,201.46 L393.00,201.27 L393.50,201.31 L394.00,201.23 L394.50,201.04 L395.00,200.96 L395.50,200.82 L396.00,201.17 L396.50,200.89 L397.00,201.27 L397.50,200.81 L398.00,200.67 L398.50,200.83 L399.00,200.40 L399.50,200.12 L400.00,200.11 L400.50,200.01 L401.00,199.34 L401.50,199.77 L402.00,199.22 L402.50,198.82 L403.00,198.79 L403.50,198.16 L404.00,197.89 L404.50,197.87 L405.00,197.20 L405.50,197.20 L406.00,197.13 L406.50,194.44 L407.00,195.93 L407.50,196.88 L408.00,197.98 L408.50,197.28 L409.00,198.64 L409.50,198.88 L410.00,198.86 L410.50,199.28 L411.00,199.35 L411.50,199.89 L412.00,199.95 L412.50,199.96 L413.00,200.32 L413.50,200.50 L414.00,200.43 L414.50,200.27 L415.00,200.54 L415.50,200.39 L416.00,200.70 L416.50,200.61 L417.00,200.76 L417.50,200.75 L418.00,200.90 L418.50,200.93 L419.00,201.02 L419.50,200.95 L420.00,201.07 L420.50,201.09 L421.00,201.13 L421.50,201.25 L422.00,201.29 L422.50,201.29 L423.00,201.27 L423.50,201.43 L424.00,201.47 L424.50,201.51 L425.00,201.52 L425.50,201.56 L426.00,201.56 L426.50,201.50 L427.00,201.59 L427.50,201.55 L428.00,201.62 L428.50,201.58 L429.00,201.56 L429.50,201.69 L430.00,201.60 L430.50,201.60 L431.00,201.62 L431.50,201.62 L432.00,201.62 L432.50,201.71 L433.00,201.67 L433.50,201.64 L434.00,201.62 L434.50,201.76 L435.00,201.73 L435.50,201.78 L436.00,201.72 L436.50,201.78 L437.00,201.79 L437.50,201.71 L438.00,201.66 L438.50,201.87 L439.00,201.70 L439.50,201.83 L440.00,201.77 L440.50,201.79 L441.00,201.75 L441.50,201.81 L442.00,201.84 L442.50,201.81 L443.00,201.77 L443.50,201.85 L444.00,201.79 L444.50,201.81 L445.00,201.81 L445.50,201.81 L446.00,201.79 L446.50,201.78 L447.00,201.83 L447.50,201.84 L448.00,201.92 L448.50,201.86 L449.00,201.89 L449.50,201.79 L450.00,201.87 L450.50,201.86 L451.00,201.80 L451.50,201.79 L452.00,201.78 L452.50,201.87 L453.00,201.82 L453.50,201.79 L454.00,201.87 L454.50,201.85 L455.00,201.89 L455.50,201.87 L456.00,201.81 L456.50,201.84 L457.00,201.86 L457.50,201.87 L458.00,201.78 L458.50,201.81 L459.00,201.90 L459.50,201.76 L460.00,201.87 L460.50,201.86 L461.00,201.87 L461.50,201.88 L462.00,201.83 L462.50,201.92 L463.00,201.86 L463.50,201.87 L464.00,201.79 L464.50,201.85 L465.00,201.85 L465.50,201.84 L466.00,201.84 L466.50,201.86 L467.00,201.97 L467.50,201.85 L468.00,201.88 L468.50,201.84 L469.00,201.86 L469.50,201.90 L470.00,201.91 L470.50,201.92 L471.00,201.87 L471.50,201.88 L472.00,201.92 L472.50,201.90 L473.00,201.87 L473.50,201.91 L474.00,201.89 L474.50,201.91 L475.00,201.99 L475.50,201.89 L476.00,201.89 L476.50,201.86 L477.00,201.84 L477.50,201.92 L478.00,201.87 L478.50,201.89 L479.00,201.89 L479.50,201.87 L480.00,201.87 L480.50,201.95 L481.00,201.85 L481.50,201.91 L482.00,201.93 L482.50,201.93 L483.00,201.92 L483.50,201.95 L484.00,201.87 L484.50,201.90 L485.00,201.95 L485.50,201.88 L486.00,201.91 L486.50,201.91 L487.00,201.88 L487.50,201.92 L488.00,201.93 L488.50,201.90 L489.00,201.99 L489.50,201.97 L490.00,201.91 L490.50,201.89 L491.00,201.99 L491.50,201.93 L492.00,201.95 L492.50,201.94 L493.00,201.91 L493.50,201.88 L494.00,201.87 L494.50,201.90 L495.00,201.92 L495.50,201.93 L496.00,202.01 L496.50,201.93 L497.00,201.98 L497.50,201.98 L498.00,201.94 L498.50,202.00 L499.00,201.89 L499.50,201.93 L500.00,201.94 L500.50,201.94 L501.00,201.94 L501.50,201.95 L502.00,201.93 L502.50,201.98 L503.00,201.95 L503.50,201.95 L504.00,201.93 L504.50,202.00 L505.00,201.95 L505.50,201.97 L506.00,201.94 L506.50,201.95 L507.00,201.96 L507.50,201.95 L508.00,201.96 L508.50,201.93 L509.00,201.96 L509.50,201.96 L510.00,202.01 L510.50,201.98 L511.00,201.95 L511.50,201.95 L512.00,202.01 L512.50,201.98 L513.00,201.99 L513.50,201.98 L514.00,202.00 L514.50,202.00 L515.00,201.99 L515.50,201.99 L516.00,201.96 L516.50,202.02 L517.00,202.02 L517.50,201.97 L518.00,201.98 L518.50,202.00 L519.00,202.03 L519.50,201.97" fill="none" stroke="#000" stroke-width="1.10" stroke-linejoin="round" clip-path="url(#cB3)"/>
<path d="M539.00,202.42 L539.50,202.40 L540.00,202.03 L540.50,202.22 L541.00,202.23 L541.50,201.90 L542.00,201.57 L542.50,201.21 L543.00,200.56 L543.50,200.56 L544.00,200.42 L544.50,200.04 L545.00,199.76 L545.50,199.63 L546.00,198.18 L546.50,198.60 L547.00,198.68 L547.50,196.65 L548.00,197.52 L548.50,196.05 L549.00,196.28 L549.50,195.60 L550.00,193.94 L550.50,194.02 L551.00,193.27 L551.50,191.12 L552.00,193.04 L552.50,192.33 L553.00,192.40 L553.50,191.33 L554.00,192.01 L554.50,190.59 L555.00,190.24 L555.50,190.58 L556.00,190.98 L556.50,190.86 L557.00,188.86 L557.50,189.99 L558.00,191.46 L558.50,191.96 L559.00,192.39 L559.50,192.99 L560.00,194.31 L560.50,193.83 L561.00,194.81 L561.50,195.39 L562.00,195.28 L562.50,196.29 L563.00,195.38 L563.50,196.51 L564.00,197.06 L564.50,197.75 L565.00,198.00 L565.50,198.34 L566.00,198.97 L566.50,199.15 L567.00,198.93 L567.50,199.39 L568.00,199.72 L568.50,199.43 L569.00,200.19 L569.50,200.38 L570.00,200.58 L570.50,200.73 L571.00,200.62 L571.50,201.20 L572.00,201.19 L572.50,201.04 L573.00,201.00 L573.50,201.66 L574.00,201.55 L574.50,201.48 L575.00,201.94 L575.50,201.93 L576.00,202.13 L576.50,202.09 L577.00,202.19 L577.50,201.96 L578.00,202.04 L578.50,202.23 L579.00,201.84 L579.50,202.07 L580.00,201.91 L580.50,202.21 L581.00,201.93 L581.50,201.98 L582.00,202.26 L582.50,202.04 L583.00,202.05 L583.50,202.22 L584.00,202.13 L584.50,202.28 L585.00,202.21 L585.50,202.18 L586.00,202.20 L586.50,202.30 L587.00,202.24 L587.50,202.31 L588.00,202.30 L588.50,202.19 L589.00,202.32 L589.50,202.30 L590.00,202.33 L590.50,202.43 L591.00,202.31 L591.50,202.31 L592.00,202.41 L592.50,202.41 L593.00,202.45 L593.50,202.48 L594.00,202.34 L594.50,202.48 L595.00,202.42 L595.50,202.41 L596.00,202.36 L596.50,202.45 L597.00,202.31 L597.50,202.43 L598.00,202.34 L598.50,202.53 L599.00,202.33 L599.50,202.43 L600.00,202.36 L600.50,202.47 L601.00,202.36 L601.50,202.42 L602.00,202.52 L602.50,202.24 L603.00,202.47 L603.50,202.39 L604.00,202.44 L604.50,202.46 L605.00,202.45 L605.50,202.36 L606.00,202.36 L606.50,202.36 L607.00,202.54 L607.50,202.37 L608.00,202.53 L608.50,202.27 L609.00,202.40 L609.50,202.35 L610.00,202.43 L610.50,202.42 L611.00,202.48 L611.50,202.30 L612.00,202.45 L612.50,202.36 L613.00,202.49 L613.50,202.44 L614.00,202.46 L614.50,202.44 L615.00,202.47 L615.50,202.40 L616.00,202.40 L616.50,202.54 L617.00,202.47 L617.50,202.52 L618.00,202.37 L618.50,202.52 L619.00,202.41 L619.50,202.43 L620.00,202.45 L620.50,202.56 L621.00,202.34 L621.50,202.45 L622.00,202.40 L622.50,202.38 L623.00,202.50 L623.50,202.50 L624.00,202.35 L624.50,202.34 L625.00,202.49 L625.50,202.45 L626.00,202.40 L626.50,202.46 L627.00,202.38 L627.50,202.42 L628.00,202.45 L628.50,202.41 L629.00,202.48 L629.50,202.38 L630.00,202.49 L630.50,202.38 L631.00,202.32 L631.50,202.54 L632.00,202.37 L632.50,202.53 L633.00,202.46 L633.50,202.36 L634.00,202.40 L634.50,202.42 L635.00,202.44 L635.50,202.45 L636.00,202.44 L636.50,202.47 L637.00,202.47 L637.50,202.52 L638.00,202.38 L638.50,202.46 L639.00,202.38 L639.50,202.43 L640.00,202.44 L640.50,202.51 L641.00,202.48 L641.50,202.46 L642.00,202.47 L642.50,202.48 L643.00,202.56 L643.50,202.48 L644.00,202.48 L644.50,202.49 L645.00,202.48 L645.50,202.53 L646.00,202.50 L646.50,202.41 L647.00,202.51 L647.50,202.49 L648.00,202.50 L648.50,202.48 L649.00,202.49 L649.50,202.40 L650.00,202.51 L650.50,202.43 L651.00,202.49 L651.50,202.46 L652.00,202.39 L652.50,202.48 L653.00,202.48 L653.50,202.58 L654.00,202.49 L654.50,202.49 L655.00,202.48 L655.50,202.47 L656.00,202.52 L656.50,202.51 L657.00,202.46 L657.50,202.49 L658.00,202.48 L658.50,202.46 L659.00,202.48 L659.50,202.48 L660.00,202.52 L660.50,202.49 L661.00,202.54 L661.50,202.44 L662.00,202.51 L662.50,202.44 L663.00,202.50 L663.50,202.49 L664.00,202.46 L664.50,202.49 L665.00,202.49 L665.50,202.50 L666.00,202.50 L666.50,202.51 L667.00,202.51 L667.50,202.54 L668.00,202.50 L668.50,202.51 L669.00,202.46 L669.50,202.45 L670.00,202.46 L670.50,202.52 L671.00,202.51 L671.50,202.50 L672.00,202.53 L672.50,202.47 L672.50,203.07 L672.00,203.13 L671.50,203.10 L671.00,203.11 L670.50,203.12 L670.00,203.06 L669.50,203.05 L669.00,203.06 L668.50,203.11 L668.00,203.10 L667.50,203.14 L667.00,203.11 L666.50,203.11 L666.00,203.10 L665.50,203.10 L665.00,203.09 L664.50,203.09 L664.00,203.06 L663.50,203.09 L663.00,203.10 L662.50,203.04 L662.00,203.11 L661.50,203.04 L661.00,203.14 L660.50,203.09 L660.00,203.12 L659.50,203.08 L659.00,203.08 L658.50,203.06 L658.00,203.08 L657.50,203.09 L657.00,203.06 L656.50,203.11 L656.00,203.12 L655.50,203.07 L655.00,203.08 L654.50,203.09 L654.00,203.09 L653.50,203.18 L653.00,203.08 L652.50,203.08 L652.00,202.99 L651.50,203.06 L651.00,203.09 L650.50,203.03 L650.00,203.11 L649.50,203.00 L649.00,203.09 L648.50,203.08 L648.00,203.10 L647.50,203.09 L647.00,203.11 L646.50,203.01 L646.00,203.10 L645.50,203.13 L645.00,203.08 L644.50,203.09 L644.00,203.08 L643.50,203.08 L643.00,203.16 L642.50,203.08 L642.00,203.07 L641.50,203.06 L641.00,203.08 L640.50,203.11 L640.00,203.04 L639.50,203.03 L639.00,202.98 L638.50,203.06 L638.00,203.01 L637.50,203.12 L637.00,203.07 L636.50,203.07 L636.00,203.04 L635.50,203.05 L635.00,203.04 L634.50,203.02 L634.00,203.00 L633.50,202.99 L633.00,203.06 L632.50,203.13 L632.00,203.06 L631.50,203.14 L631.00,203.03 L630.50,203.00 L630.00,203.09 L629.50,203.01 L629.00,203.08 L628.50,203.01 L628.00,203.05 L627.50,203.02 L627.00,202.99 L626.50,203.06 L626.00,203.05 L625.50,203.05 L625.00,203.09 L624.50,203.03 L624.00,203.05 L623.50,203.10 L623.00,203.10 L622.50,203.05 L622.00,203.03 L621.50,203.05 L621.00,203.05 L620.50,203.16 L620.00,203.05 L619.50,203.05 L619.00,203.01 L618.50,203.12 L618.00,203.04 L617.50,203.12 L617.00,203.08 L616.50,203.14 L616.00,203.09 L615.50,203.03 L615.00,203.07 L614.50,203.07 L614.00,203.06 L613.50,203.14 L613.00,203.10 L612.50,203.04 L612.00,203.05 L611.50,203.10 L611.00,203.08 L610.50,203.05 L610.00,203.09 L609.50,203.08 L609.00,203.14 L608.50,203.19 L608.00,203.13 L607.50,203.11 L607.00,203.14 L606.50,203.09 L606.00,203.09 L605.50,203.07 L605.00,203.05 L604.50,203.09 L604.00,203.05 L603.50,203.17 L603.00,203.08 L602.50,203.07 L602.00,203.16 L601.50,203.05 L601.00,203.15 L600.50,203.14 L600.00,203.12 L599.50,203.13 L599.00,203.06 L598.50,203.13 L598.00,203.07 L597.50,203.10 L597.00,203.14 L596.50,203.11 L596.00,203.07 L595.50,203.11 L595.00,203.16 L594.50,203.10 L594.00,203.11 L593.50,203.09 L593.00,203.15 L592.50,203.07 L592.00,203.14 L591.50,203.25 L591.00,203.18 L590.50,203.21 L590.00,203.09 L589.50,203.11 L589.00,203.20 L588.50,203.18 L588.00,203.09 L587.50,203.09 L587.00,203.11 L586.50,203.14 L586.00,203.10 L585.50,203.17 L585.00,203.11 L584.50,203.13 L584.00,203.17 L583.50,203.09 L583.00,203.13 L582.50,203.17 L582.00,203.09 L581.50,203.16 L581.00,203.20 L580.50,203.18 L580.00,203.16 L579.50,203.12 L579.00,203.22 L578.50,203.19 L578.00,203.14 L577.50,203.10 L577.00,203.13 L576.50,203.10 L576.00,203.15 L575.50,203.10 L575.00,203.28 L574.50,203.14 L574.00,203.22 L573.50,203.26 L573.00,203.26 L572.50,203.26 L572.00,203.32 L571.50,203.48 L571.00,203.60 L570.50,203.43 L570.00,203.57 L569.50,203.49 L569.00,203.64 L568.50,203.60 L568.00,203.73 L567.50,203.64 L567.00,203.80 L566.50,204.18 L566.00,203.88 L565.50,204.48 L565.00,204.09 L564.50,204.36 L564.00,204.75 L563.50,204.96 L563.00,204.55 L562.50,204.75 L562.00,205.11 L561.50,206.02 L561.00,205.09 L560.50,206.07 L560.00,205.83 L559.50,206.27 L559.00,206.60 L558.50,206.74 L558.00,207.13 L557.50,206.84 L557.00,206.99 L556.50,206.64 L556.00,206.36 L555.50,206.00 L555.00,206.29 L554.50,205.96 L554.00,206.43 L553.50,205.88 L553.00,206.52 L552.50,205.63 L552.00,205.64 L551.50,206.36 L551.00,205.69 L550.50,205.69 L550.00,205.14 L549.50,204.99 L549.00,205.36 L548.50,205.06 L548.00,205.01 L547.50,204.82 L547.00,205.18 L546.50,204.64 L546.00,204.41 L545.50,204.43 L545.00,204.27 L544.50,204.13 L544.00,204.11 L543.50,203.79 L543.00,204.29 L542.50,203.79 L542.00,203.79 L541.50,203.45 L541.00,203.76 L540.50,203.32 L540.00,203.21 L539.50,203.18 L539.00,203.12 Z" fill="#cfe4f4" stroke="none" clip-path="url(#cB4)"/><path d="M539.00,202.42 L539.50,202.40 L540.00,202.03 L540.50,202.22 L541.00,202.23 L541.50,201.90 L542.00,201.57 L542.50,201.21 L543.00,200.56 L543.50,200.56 L544.00,200.42 L544.50,200.04 L545.00,199.76 L545.50,199.63 L546.00,198.18 L546.50,198.60 L547.00,198.68 L547.50,196.65 L548.00,197.52 L548.50,196.05 L549.00,196.28 L549.50,195.60 L550.00,193.94 L550.50,194.02 L551.00,193.27 L551.50,191.12 L552.00,193.04 L552.50,192.33 L553.00,192.40 L553.50,191.33 L554.00,192.01 L554.50,190.59 L555.00,190.24 L555.50,190.58 L556.00,190.98 L556.50,190.86 L557.00,188.86 L557.50,189.99 L558.00,191.46 L558.50,191.96 L559.00,192.39 L559.50,192.99 L560.00,194.31 L560.50,193.83 L561.00,194.81 L561.50,195.39 L562.00,195.28 L562.50,196.29 L563.00,195.38 L563.50,196.51 L564.00,197.06 L564.50,197.75 L565.00,198.00 L565.50,198.34 L566.00,198.97 L566.50,199.15 L567.00,198.93 L567.50,199.39 L568.00,199.72 L568.50,199.43 L569.00,200.19 L569.50,200.38 L570.00,200.58 L570.50,200.73 L571.00,200.62 L571.50,201.20 L572.00,201.19 L572.50,201.04 L573.00,201.00 L573.50,201.66 L574.00,201.55 L574.50,201.48 L575.00,201.94 L575.50,201.93 L576.00,202.13 L576.50,202.09 L577.00,202.19 L577.50,201.96 L578.00,202.04 L578.50,202.23 L579.00,201.84 L579.50,202.07 L580.00,201.91 L580.50,202.21 L581.00,201.93 L581.50,201.98 L582.00,202.26 L582.50,202.04 L583.00,202.05 L583.50,202.22 L584.00,202.13 L584.50,202.28 L585.00,202.21 L585.50,202.18 L586.00,202.20 L586.50,202.30 L587.00,202.24 L587.50,202.31 L588.00,202.30 L588.50,202.19 L589.00,202.32 L589.50,202.30 L590.00,202.33 L590.50,202.43 L591.00,202.31 L591.50,202.31 L592.00,202.41 L592.50,202.41 L593.00,202.45 L593.50,202.48 L594.00,202.34 L594.50,202.48 L595.00,202.42 L595.50,202.41 L596.00,202.36 L596.50,202.45 L597.00,202.31 L597.50,202.43 L598.00,202.34 L598.50,202.53 L599.00,202.33 L599.50,202.43 L600.00,202.36 L600.50,202.47 L601.00,202.36 L601.50,202.42 L602.00,202.52 L602.50,202.24 L603.00,202.47 L603.50,202.39 L604.00,202.44 L604.50,202.46 L605.00,202.45 L605.50,202.36 L606.00,202.36 L606.50,202.36 L607.00,202.54 L607.50,202.37 L608.00,202.53 L608.50,202.27 L609.00,202.40 L609.50,202.35 L610.00,202.43 L610.50,202.42 L611.00,202.48 L611.50,202.30 L612.00,202.45 L612.50,202.36 L613.00,202.49 L613.50,202.44 L614.00,202.46 L614.50,202.44 L615.00,202.47 L615.50,202.40 L616.00,202.40 L616.50,202.54 L617.00,202.47 L617.50,202.52 L618.00,202.37 L618.50,202.52 L619.00,202.41 L619.50,202.43 L620.00,202.45 L620.50,202.56 L621.00,202.34 L621.50,202.45 L622.00,202.40 L622.50,202.38 L623.00,202.50 L623.50,202.50 L624.00,202.35 L624.50,202.34 L625.00,202.49 L625.50,202.45 L626.00,202.40 L626.50,202.46 L627.00,202.38 L627.50,202.42 L628.00,202.45 L628.50,202.41 L629.00,202.48 L629.50,202.38 L630.00,202.49 L630.50,202.38 L631.00,202.32 L631.50,202.54 L632.00,202.37 L632.50,202.53 L633.00,202.46 L633.50,202.36 L634.00,202.40 L634.50,202.42 L635.00,202.44 L635.50,202.45 L636.00,202.44 L636.50,202.47 L637.00,202.47 L637.50,202.52 L638.00,202.38 L638.50,202.46 L639.00,202.38 L639.50,202.43 L640.00,202.44 L640.50,202.51 L641.00,202.48 L641.50,202.46 L642.00,202.47 L642.50,202.48 L643.00,202.56 L643.50,202.48 L644.00,202.48 L644.50,202.49 L645.00,202.48 L645.50,202.53 L646.00,202.50 L646.50,202.41 L647.00,202.51 L647.50,202.49 L648.00,202.50 L648.50,202.48 L649.00,202.49 L649.50,202.40 L650.00,202.51 L650.50,202.43 L651.00,202.49 L651.50,202.46 L652.00,202.39 L652.50,202.48 L653.00,202.48 L653.50,202.58 L654.00,202.49 L654.50,202.49 L655.00,202.48 L655.50,202.47 L656.00,202.52 L656.50,202.51 L657.00,202.46 L657.50,202.49 L658.00,202.48 L658.50,202.46 L659.00,202.48 L659.50,202.48 L660.00,202.52 L660.50,202.49 L661.00,202.54 L661.50,202.44 L662.00,202.51 L662.50,202.44 L663.00,202.50 L663.50,202.49 L664.00,202.46 L664.50,202.49 L665.00,202.49 L665.50,202.50 L666.00,202.50 L666.50,202.51 L667.00,202.51 L667.50,202.54 L668.00,202.50 L668.50,202.51 L669.00,202.46 L669.50,202.45 L670.00,202.46 L670.50,202.52 L671.00,202.51 L671.50,202.50 L672.00,202.53 L672.50,202.47" fill="none" stroke="#3f98d8" stroke-width="0.90" stroke-linejoin="round" clip-path="url(#cB4)"/><path d="M539.00,203.12 L539.50,203.18 L540.00,203.21 L540.50,203.32 L541.00,203.76 L541.50,203.45 L542.00,203.79 L542.50,203.79 L543.00,204.29 L543.50,203.79 L544.00,204.11 L544.50,204.13 L545.00,204.27 L545.50,204.43 L546.00,204.41 L546.50,204.64 L547.00,205.18 L547.50,204.82 L548.00,205.01 L548.50,205.06 L549.00,205.36 L549.50,204.99 L550.00,205.14 L550.50,205.69 L551.00,205.69 L551.50,206.36 L552.00,205.64 L552.50,205.63 L553.00,206.52 L553.50,205.88 L554.00,206.43 L554.50,205.96 L555.00,206.29 L555.50,206.00 L556.00,206.36 L556.50,206.64 L557.00,206.99 L557.50,206.84 L558.00,207.13 L558.50,206.74 L559.00,206.60 L559.50,206.27 L560.00,205.83 L560.50,206.07 L561.00,205.09 L561.50,206.02 L562.00,205.11 L562.50,204.75 L563.00,204.55 L563.50,204.96 L564.00,204.75 L564.50,204.36 L565.00,204.09 L565.50,204.48 L566.00,203.88 L566.50,204.18 L567.00,203.80 L567.50,203.64 L568.00,203.73 L568.50,203.60 L569.00,203.64 L569.50,203.49 L570.00,203.57 L570.50,203.43 L571.00,203.60 L571.50,203.48 L572.00,203.32 L572.50,203.26 L573.00,203.26 L573.50,203.26 L574.00,203.22 L574.50,203.14 L575.00,203.28 L575.50,203.10 L576.00,203.15 L576.50,203.10 L577.00,203.13 L577.50,203.10 L578.00,203.14 L578.50,203.19 L579.00,203.22 L579.50,203.12 L580.00,203.16 L580.50,203.18 L581.00,203.20 L581.50,203.16 L582.00,203.09 L582.50,203.17 L583.00,203.13 L583.50,203.09 L584.00,203.17 L584.50,203.13 L585.00,203.11 L585.50,203.17 L586.00,203.10 L586.50,203.14 L587.00,203.11 L587.50,203.09 L588.00,203.09 L588.50,203.18 L589.00,203.20 L589.50,203.11 L590.00,203.09 L590.50,203.21 L591.00,203.18 L591.50,203.25 L592.00,203.14 L592.50,203.07 L593.00,203.15 L593.50,203.09 L594.00,203.11 L594.50,203.10 L595.00,203.16 L595.50,203.11 L596.00,203.07 L596.50,203.11 L597.00,203.14 L597.50,203.10 L598.00,203.07 L598.50,203.13 L599.00,203.06 L599.50,203.13 L600.00,203.12 L600.50,203.14 L601.00,203.15 L601.50,203.05 L602.00,203.16 L602.50,203.07 L603.00,203.08 L603.50,203.17 L604.00,203.05 L604.50,203.09 L605.00,203.05 L605.50,203.07 L606.00,203.09 L606.50,203.09 L607.00,203.14 L607.50,203.11 L608.00,203.13 L608.50,203.19 L609.00,203.14 L609.50,203.08 L610.00,203.09 L610.50,203.05 L611.00,203.08 L611.50,203.10 L612.00,203.05 L612.50,203.04 L613.00,203.10 L613.50,203.14 L614.00,203.06 L614.50,203.07 L615.00,203.07 L615.50,203.03 L616.00,203.09 L616.50,203.14 L617.00,203.08 L617.50,203.12 L618.00,203.04 L618.50,203.12 L619.00,203.01 L619.50,203.05 L620.00,203.05 L620.50,203.16 L621.00,203.05 L621.50,203.05 L622.00,203.03 L622.50,203.05 L623.00,203.10 L623.50,203.10 L624.00,203.05 L624.50,203.03 L625.00,203.09 L625.50,203.05 L626.00,203.05 L626.50,203.06 L627.00,202.99 L627.50,203.02 L628.00,203.05 L628.50,203.01 L629.00,203.08 L629.50,203.01 L630.00,203.09 L630.50,203.00 L631.00,203.03 L631.50,203.14 L632.00,203.06 L632.50,203.13 L633.00,203.06 L633.50,202.99 L634.00,203.00 L634.50,203.02 L635.00,203.04 L635.50,203.05 L636.00,203.04 L636.50,203.07 L637.00,203.07 L637.50,203.12 L638.00,203.01 L638.50,203.06 L639.00,202.98 L639.50,203.03 L640.00,203.04 L640.50,203.11 L641.00,203.08 L641.50,203.06 L642.00,203.07 L642.50,203.08 L643.00,203.16 L643.50,203.08 L644.00,203.08 L644.50,203.09 L645.00,203.08 L645.50,203.13 L646.00,203.10 L646.50,203.01 L647.00,203.11 L647.50,203.09 L648.00,203.10 L648.50,203.08 L649.00,203.09 L649.50,203.00 L650.00,203.11 L650.50,203.03 L651.00,203.09 L651.50,203.06 L652.00,202.99 L652.50,203.08 L653.00,203.08 L653.50,203.18 L654.00,203.09 L654.50,203.09 L655.00,203.08 L655.50,203.07 L656.00,203.12 L656.50,203.11 L657.00,203.06 L657.50,203.09 L658.00,203.08 L658.50,203.06 L659.00,203.08 L659.50,203.08 L660.00,203.12 L660.50,203.09 L661.00,203.14 L661.50,203.04 L662.00,203.11 L662.50,203.04 L663.00,203.10 L663.50,203.09 L664.00,203.06 L664.50,203.09 L665.00,203.09 L665.50,203.10 L666.00,203.10 L666.50,203.11 L667.00,203.11 L667.50,203.14 L668.00,203.10 L668.50,203.11 L669.00,203.06 L669.50,203.05 L670.00,203.06 L670.50,203.12 L671.00,203.11 L671.50,203.10 L672.00,203.13 L672.50,203.07" fill="none" stroke="#3f98d8" stroke-width="0.90" stroke-linejoin="round" clip-path="url(#cB4)"/><path d="M557.00,187.80 L557.00,207.80" stroke="#3f98d8" stroke-width="0.60" clip-path="url(#cB4)"/><path d="M539.00,202.77 L539.50,202.71 L540.00,202.77 L540.50,202.60 L541.00,202.72 L541.50,202.48 L542.00,202.21 L542.50,202.51 L543.00,202.11 L543.50,202.42 L544.00,202.18 L544.50,202.00 L545.00,202.33 L545.50,201.93 L546.00,202.09 L546.50,201.99 L547.00,201.60 L547.50,201.62 L548.00,201.31 L548.50,201.22 L549.00,200.94 L549.50,200.41 L550.00,200.63 L550.50,200.56 L551.00,200.28 L551.50,199.91 L552.00,199.83 L552.50,200.44 L553.00,199.66 L553.50,199.35 L554.00,198.54 L554.50,199.33 L555.00,199.07 L555.50,199.36 L556.00,199.06 L556.50,199.59 L557.00,199.34 L557.50,199.14 L558.00,199.59 L558.50,199.24 L559.00,199.39 L559.50,198.93 L560.00,198.95 L560.50,198.94 L561.00,199.62 L561.50,199.60 L562.00,199.28 L562.50,200.17 L563.00,199.72 L563.50,200.45 L564.00,200.13 L564.50,200.80 L565.00,200.67 L565.50,200.75 L566.00,200.88 L566.50,201.28 L567.00,201.05 L567.50,201.24 L568.00,201.11 L568.50,201.36 L569.00,201.81 L569.50,201.66 L570.00,201.69 L570.50,201.87 L571.00,201.99 L571.50,202.11 L572.00,202.07 L572.50,202.19 L573.00,202.18 L573.50,202.25 L574.00,202.15 L574.50,202.43 L575.00,202.37 L575.50,202.53 L576.00,202.43 L576.50,202.39 L577.00,202.57 L577.50,202.66 L578.00,202.57 L578.50,202.60 L579.00,202.70 L579.50,202.63 L580.00,202.69 L580.50,202.64 L581.00,202.82 L581.50,202.63 L582.00,202.59 L582.50,202.77 L583.00,202.52 L583.50,202.68 L584.00,202.82 L584.50,202.80 L585.00,202.77 L585.50,202.76 L586.00,202.72 L586.50,202.68 L587.00,202.72 L587.50,202.73 L588.00,202.79 L588.50,202.88 L589.00,202.77 L589.50,202.81 L590.00,202.63 L590.50,202.91 L591.00,202.61 L591.50,202.95 L592.00,202.73 L592.50,202.71 L593.00,202.80 L593.50,202.79 L594.00,202.64 L594.50,202.80 L595.00,202.72 L595.50,202.71 L596.00,202.66 L596.50,202.81 L597.00,202.61 L597.50,202.73 L598.00,202.64 L598.50,202.83 L599.00,202.63 L599.50,202.73 L600.00,202.66 L600.50,202.77 L601.00,202.66 L601.50,202.72 L602.00,202.86 L602.50,202.54 L603.00,202.77 L603.50,202.69 L604.00,202.74 L604.50,202.76 L605.00,202.75 L605.50,202.66 L606.00,202.66 L606.50,202.66 L607.00,202.84 L607.50,202.67 L608.00,202.83 L608.50,202.57 L609.00,202.70 L609.50,202.65 L610.00,202.73 L610.50,202.72 L611.00,202.78 L611.50,202.60 L612.00,202.75 L612.50,202.66 L613.00,202.79 L613.50,202.74 L614.00,202.76 L614.50,202.74 L615.00,202.77 L615.50,202.70 L616.00,202.70 L616.50,202.84 L617.00,202.77 L617.50,202.82 L618.00,202.67 L618.50,202.82 L619.00,202.71 L619.50,202.73 L620.00,202.75 L620.50,202.86 L621.00,202.64 L621.50,202.75 L622.00,202.70 L622.50,202.68 L623.00,202.80 L623.50,202.80 L624.00,202.65 L624.50,202.64 L625.00,202.79 L625.50,202.75 L626.00,202.70 L626.50,202.76 L627.00,202.68 L627.50,202.72 L628.00,202.75 L628.50,202.71 L629.00,202.78 L629.50,202.68 L630.00,202.79 L630.50,202.68 L631.00,202.62 L631.50,202.84 L632.00,202.67 L632.50,202.83 L633.00,202.76 L633.50,202.66 L634.00,202.70 L634.50,202.72 L635.00,202.74 L635.50,202.75 L636.00,202.74 L636.50,202.77 L637.00,202.77 L637.50,202.82 L638.00,202.68 L638.50,202.76 L639.00,202.68 L639.50,202.73 L640.00,202.74 L640.50,202.81 L641.00,202.78 L641.50,202.76 L642.00,202.77 L642.50,202.78 L643.00,202.86 L643.50,202.78 L644.00,202.78 L644.50,202.79 L645.00,202.78 L645.50,202.83 L646.00,202.80 L646.50,202.71 L647.00,202.81 L647.50,202.79 L648.00,202.80 L648.50,202.78 L649.00,202.79 L649.50,202.70 L650.00,202.81 L650.50,202.73 L651.00,202.79 L651.50,202.76 L652.00,202.69 L652.50,202.78 L653.00,202.78 L653.50,202.88 L654.00,202.79 L654.50,202.79 L655.00,202.78 L655.50,202.77 L656.00,202.82 L656.50,202.81 L657.00,202.76 L657.50,202.79 L658.00,202.78 L658.50,202.76 L659.00,202.78 L659.50,202.78 L660.00,202.82 L660.50,202.79 L661.00,202.84 L661.50,202.74 L662.00,202.81 L662.50,202.74 L663.00,202.80 L663.50,202.79 L664.00,202.76 L664.50,202.79 L665.00,202.79 L665.50,202.80 L666.00,202.80 L666.50,202.81 L667.00,202.81 L667.50,202.84 L668.00,202.80 L668.50,202.81 L669.00,202.76 L669.50,202.75 L670.00,202.76 L670.50,202.82 L671.00,202.81 L671.50,202.80 L672.00,202.83 L672.50,202.77" fill="none" stroke="#000" stroke-width="1.10" stroke-linejoin="round" clip-path="url(#cB4)"/>
</svg>
</body></html>
